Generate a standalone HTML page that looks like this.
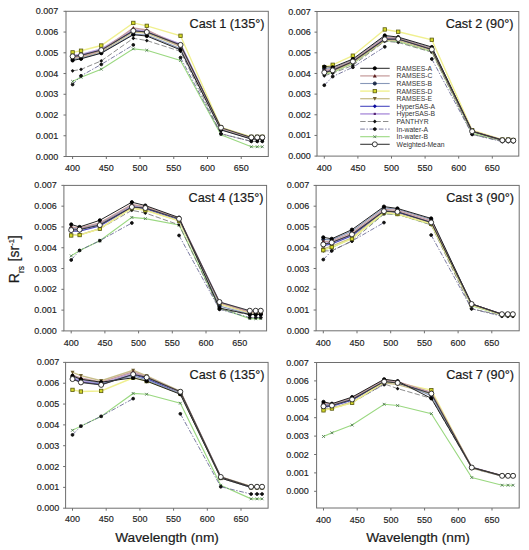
<!DOCTYPE html>
<html><head><meta charset="utf-8"><style>
html,body{margin:0;padding:0;background:#fff;}
body{width:529px;height:550px;overflow:hidden;}
svg{display:block;}
text{font-family:"Liberation Sans",sans-serif;fill:#222;}
.yl{font-size:9px;text-anchor:end;stroke:#222;stroke-width:0.15px;}
.xl{font-size:9px;text-anchor:middle;stroke:#222;stroke-width:0.15px;}
.tt{font-size:12.7px;text-anchor:end;fill:#1a1a1a;stroke:#1a1a1a;stroke-width:0.2px;}
.lg{font-size:6.8px;fill:#333;}
.at{font-size:13.7px;fill:#1a1a1a;stroke:#1a1a1a;stroke-width:0.2px;}
</style></head><body>
<svg width="529" height="550" viewBox="0 0 529 550">
<rect width="529" height="550" fill="#fff"/>
<rect x="66" y="11.3" width="202.30" height="145.20" fill="none" stroke="#6e6e6e" stroke-width="1"/>
<line x1="63.50" y1="156.50" x2="66" y2="156.50" stroke="#6e6e6e" stroke-width="1"/>
<text x="58.20" y="159.55" class="yl">0.000</text>
<line x1="63.50" y1="135.76" x2="66" y2="135.76" stroke="#6e6e6e" stroke-width="1"/>
<text x="58.20" y="138.81" class="yl">0.001</text>
<line x1="63.50" y1="115.02" x2="66" y2="115.02" stroke="#6e6e6e" stroke-width="1"/>
<text x="58.20" y="118.07" class="yl">0.002</text>
<line x1="63.50" y1="94.28" x2="66" y2="94.28" stroke="#6e6e6e" stroke-width="1"/>
<text x="58.20" y="97.33" class="yl">0.003</text>
<line x1="63.50" y1="73.54" x2="66" y2="73.54" stroke="#6e6e6e" stroke-width="1"/>
<text x="58.20" y="76.59" class="yl">0.004</text>
<line x1="63.50" y1="52.80" x2="66" y2="52.80" stroke="#6e6e6e" stroke-width="1"/>
<text x="58.20" y="55.85" class="yl">0.005</text>
<line x1="63.50" y1="32.06" x2="66" y2="32.06" stroke="#6e6e6e" stroke-width="1"/>
<text x="58.20" y="35.11" class="yl">0.006</text>
<line x1="63.50" y1="11.32" x2="66" y2="11.32" stroke="#6e6e6e" stroke-width="1"/>
<text x="58.20" y="14.37" class="yl">0.007</text>
<line x1="72.60" y1="156.5" x2="72.60" y2="159.00" stroke="#6e6e6e" stroke-width="1"/>
<text x="72.60" y="171.00" class="xl">400</text>
<line x1="106.32" y1="156.5" x2="106.32" y2="159.00" stroke="#6e6e6e" stroke-width="1"/>
<text x="106.32" y="171.00" class="xl">450</text>
<line x1="140.05" y1="156.5" x2="140.05" y2="159.00" stroke="#6e6e6e" stroke-width="1"/>
<text x="140.05" y="171.00" class="xl">500</text>
<line x1="173.77" y1="156.5" x2="173.77" y2="159.00" stroke="#6e6e6e" stroke-width="1"/>
<text x="173.77" y="171.00" class="xl">550</text>
<line x1="207.50" y1="156.5" x2="207.50" y2="159.00" stroke="#6e6e6e" stroke-width="1"/>
<text x="207.50" y="171.00" class="xl">600</text>
<line x1="241.22" y1="156.5" x2="241.22" y2="159.00" stroke="#6e6e6e" stroke-width="1"/>
<text x="241.22" y="171.00" class="xl">650</text>
<text x="264.5" y="27.8" class="tt">Cast 1 (135°)</text>
<path d="M72.60,81.42L81.03,77.27L101.27,69.18L133.31,48.86L146.79,50.31L180.52,60.47L220.99,134.72L251.34,146.75L257.24,146.75L262.30,146.75" fill="none" stroke="#9ad880" stroke-width="1.1"/>
<path d="M71.20,80.02L74.00,82.82M71.20,82.82L74.00,80.02" stroke="#507a50" stroke-width="0.9" fill="none"/>
<path d="M79.63,75.87L82.43,78.67M79.63,78.67L82.43,75.87" stroke="#507a50" stroke-width="0.9" fill="none"/>
<path d="M99.87,67.78L102.67,70.58M99.87,70.58L102.67,67.78" stroke="#507a50" stroke-width="0.9" fill="none"/>
<path d="M131.91,47.46L134.71,50.26M131.91,50.26L134.71,47.46" stroke="#507a50" stroke-width="0.9" fill="none"/>
<path d="M145.39,48.91L148.19,51.71M145.39,51.71L148.19,48.91" stroke="#507a50" stroke-width="0.9" fill="none"/>
<path d="M179.12,59.07L181.92,61.87M179.12,61.87L181.92,59.07" stroke="#507a50" stroke-width="0.9" fill="none"/>
<path d="M219.59,133.32L222.39,136.12M219.59,136.12L222.39,133.32" stroke="#507a50" stroke-width="0.9" fill="none"/>
<path d="M249.94,145.35L252.74,148.15M249.94,148.15L252.74,145.35" stroke="#507a50" stroke-width="0.9" fill="none"/>
<path d="M255.84,145.35L258.64,148.15M255.84,148.15L258.64,145.35" stroke="#507a50" stroke-width="0.9" fill="none"/>
<path d="M260.90,145.35L263.70,148.15M260.90,148.15L263.70,145.35" stroke="#507a50" stroke-width="0.9" fill="none"/>
<path d="M72.60,84.53L81.03,75.82L101.27,64.41L133.31,44.92M180.52,57.57L220.99,133.89L251.34,141.36L257.24,141.36L262.30,141.36" fill="none" stroke="#5a5a8a" stroke-width="0.8" stroke-dasharray="4.7,1.6,1.4,1.6"/>
<circle cx="72.60" cy="84.53" r="1.4" fill="#111" stroke="#111" stroke-width="0.9"/>
<circle cx="81.03" cy="75.82" r="1.4" fill="#111" stroke="#111" stroke-width="0.9"/>
<circle cx="101.27" cy="64.41" r="1.4" fill="#111" stroke="#111" stroke-width="0.9"/>
<circle cx="133.31" cy="44.92" r="1.4" fill="#111" stroke="#111" stroke-width="0.9"/>
<circle cx="180.52" cy="57.57" r="1.4" fill="#111" stroke="#111" stroke-width="0.9"/>
<circle cx="220.99" cy="133.89" r="1.4" fill="#111" stroke="#111" stroke-width="0.9"/>
<circle cx="251.34" cy="141.36" r="1.4" fill="#111" stroke="#111" stroke-width="0.9"/>
<circle cx="257.24" cy="141.36" r="1.4" fill="#111" stroke="#111" stroke-width="0.9"/>
<circle cx="262.30" cy="141.36" r="1.4" fill="#111" stroke="#111" stroke-width="0.9"/>
<path d="M72.60,70.84L81.03,69.39L101.27,60.89L133.31,38.28L146.79,40.56L180.52,51.35L220.99,133.69L251.34,141.36L257.24,141.36L262.30,141.36" fill="none" stroke="#707070" stroke-width="0.8" stroke-dasharray="5.4,2.2"/>
<path d="M72.60,68.94L74.50,70.84L72.60,72.74L70.70,70.84Z" fill="#111"/>
<path d="M81.03,67.49L82.93,69.39L81.03,71.29L79.13,69.39Z" fill="#111"/>
<path d="M101.27,58.99L103.17,60.89L101.27,62.79L99.37,60.89Z" fill="#111"/>
<path d="M133.31,36.38L135.21,38.28L133.31,40.18L131.41,38.28Z" fill="#111"/>
<path d="M146.79,38.66L148.69,40.56L146.79,42.46L144.89,40.56Z" fill="#111"/>
<path d="M180.52,49.45L182.42,51.35L180.52,53.25L178.62,51.35Z" fill="#111"/>
<path d="M220.99,131.79L222.89,133.69L220.99,135.59L219.09,133.69Z" fill="#111"/>
<path d="M251.34,139.46L253.24,141.36L251.34,143.26L249.44,141.36Z" fill="#111"/>
<path d="M257.24,139.46L259.14,141.36L257.24,143.26L255.34,141.36Z" fill="#111"/>
<path d="M262.30,139.46L264.20,141.36L262.30,143.26L260.40,141.36Z" fill="#111"/>
<path d="M72.60,55.29L81.03,54.46L101.27,49.07L133.31,29.57L146.79,31.23L180.52,44.09L220.99,127.88L251.34,137.21L257.24,137.21L262.30,137.21" fill="none" stroke="#b8a0e0" stroke-width="1.6"/>
<rect x="71.90" y="54.59" width="1.4" height="1.4" fill="#502070" stroke="#502070" stroke-width="0.8"/>
<rect x="80.33" y="53.76" width="1.4" height="1.4" fill="#502070" stroke="#502070" stroke-width="0.8"/>
<rect x="100.57" y="48.37" width="1.4" height="1.4" fill="#502070" stroke="#502070" stroke-width="0.8"/>
<rect x="132.61" y="28.87" width="1.4" height="1.4" fill="#502070" stroke="#502070" stroke-width="0.8"/>
<rect x="146.09" y="30.53" width="1.4" height="1.4" fill="#502070" stroke="#502070" stroke-width="0.8"/>
<rect x="179.82" y="43.39" width="1.4" height="1.4" fill="#502070" stroke="#502070" stroke-width="0.8"/>
<rect x="220.29" y="127.18" width="1.4" height="1.4" fill="#502070" stroke="#502070" stroke-width="0.8"/>
<rect x="250.64" y="136.51" width="1.4" height="1.4" fill="#502070" stroke="#502070" stroke-width="0.8"/>
<rect x="256.54" y="136.51" width="1.4" height="1.4" fill="#502070" stroke="#502070" stroke-width="0.8"/>
<rect x="261.60" y="136.51" width="1.4" height="1.4" fill="#502070" stroke="#502070" stroke-width="0.8"/>
<path d="M72.60,56.95L81.03,56.12L101.27,50.31L133.31,31.02L146.79,32.06L180.52,45.33L220.99,128.29L251.34,137.42L257.24,137.42L262.30,137.42" fill="none" stroke="#4848c0" stroke-width="1.1"/>
<path d="M72.60,54.95L74.60,56.95L72.60,58.95L70.60,56.95Z" fill="#0a0a9a"/>
<path d="M81.03,54.12L83.03,56.12L81.03,58.12L79.03,56.12Z" fill="#0a0a9a"/>
<path d="M101.27,48.31L103.27,50.31L101.27,52.31L99.27,50.31Z" fill="#0a0a9a"/>
<path d="M133.31,29.02L135.31,31.02L133.31,33.02L131.31,31.02Z" fill="#0a0a9a"/>
<path d="M146.79,30.06L148.79,32.06L146.79,34.06L144.79,32.06Z" fill="#0a0a9a"/>
<path d="M180.52,43.33L182.52,45.33L180.52,47.33L178.52,45.33Z" fill="#0a0a9a"/>
<path d="M220.99,126.29L222.99,128.29L220.99,130.29L218.99,128.29Z" fill="#0a0a9a"/>
<path d="M251.34,135.42L253.34,137.42L251.34,139.42L249.34,137.42Z" fill="#0a0a9a"/>
<path d="M257.24,135.42L259.24,137.42L257.24,139.42L255.24,137.42Z" fill="#0a0a9a"/>
<path d="M262.30,135.42L264.30,137.42L262.30,139.42L260.30,137.42Z" fill="#0a0a9a"/>
<path d="M72.60,58.61L81.03,57.36L101.27,51.76L133.31,32.06L146.79,33.10L180.52,46.58L220.99,128.71L251.34,137.83L257.24,137.83L262.30,137.83" fill="none" stroke="#c8be8a" stroke-width="1.3"/>
<path d="M72.60,60.61L74.60,57.01L70.60,57.01Z" fill="#6f6030"/>
<path d="M81.03,59.36L83.03,55.76L79.03,55.76Z" fill="#6f6030"/>
<path d="M101.27,53.76L103.27,50.16L99.27,50.16Z" fill="#6f6030"/>
<path d="M133.31,34.06L135.31,30.46L131.31,30.46Z" fill="#6f6030"/>
<path d="M146.79,35.10L148.79,31.50L144.79,31.50Z" fill="#6f6030"/>
<path d="M180.52,48.58L182.52,44.98L178.52,44.98Z" fill="#6f6030"/>
<path d="M220.99,130.71L222.99,127.11L218.99,127.11Z" fill="#6f6030"/>
<path d="M251.34,139.83L253.34,136.23L249.34,136.23Z" fill="#6f6030"/>
<path d="M257.24,139.83L259.24,136.23L255.24,136.23Z" fill="#6f6030"/>
<path d="M262.30,139.83L264.30,136.23L260.30,136.23Z" fill="#6f6030"/>
<path d="M72.60,52.39L81.03,50.73L101.27,45.54L133.31,22.93L146.79,25.84L180.52,35.79L220.99,127.46L251.34,136.80L257.24,136.80L262.30,136.80" fill="none" stroke="#f0f090" stroke-width="1.4"/>
<rect x="70.90" y="50.69" width="3.4" height="3.4" fill="#d4d828" stroke="#5a5a10" stroke-width="0.8"/>
<rect x="79.33" y="49.03" width="3.4" height="3.4" fill="#d4d828" stroke="#5a5a10" stroke-width="0.8"/>
<rect x="99.57" y="43.84" width="3.4" height="3.4" fill="#d4d828" stroke="#5a5a10" stroke-width="0.8"/>
<rect x="131.61" y="21.23" width="3.4" height="3.4" fill="#d4d828" stroke="#5a5a10" stroke-width="0.8"/>
<rect x="145.09" y="24.14" width="3.4" height="3.4" fill="#d4d828" stroke="#5a5a10" stroke-width="0.8"/>
<rect x="178.82" y="34.09" width="3.4" height="3.4" fill="#d4d828" stroke="#5a5a10" stroke-width="0.8"/>
<rect x="219.29" y="125.76" width="3.4" height="3.4" fill="#d4d828" stroke="#5a5a10" stroke-width="0.8"/>
<rect x="249.64" y="135.10" width="3.4" height="3.4" fill="#d4d828" stroke="#5a5a10" stroke-width="0.8"/>
<rect x="255.54" y="135.10" width="3.4" height="3.4" fill="#d4d828" stroke="#5a5a10" stroke-width="0.8"/>
<rect x="260.60" y="135.10" width="3.4" height="3.4" fill="#d4d828" stroke="#5a5a10" stroke-width="0.8"/>
<path d="M72.60,59.44L81.03,58.19L101.27,52.80L133.31,34.13L146.79,34.96L180.52,48.65L220.99,129.54L251.34,138.66L257.24,138.66L262.30,138.66" fill="none" stroke="#8898b8" stroke-width="1.1"/>
<circle cx="72.60" cy="59.44" r="1.6" fill="#1c2a48" stroke="#1c2a48" stroke-width="0.9"/>
<circle cx="81.03" cy="58.19" r="1.6" fill="#1c2a48" stroke="#1c2a48" stroke-width="0.9"/>
<circle cx="101.27" cy="52.80" r="1.6" fill="#1c2a48" stroke="#1c2a48" stroke-width="0.9"/>
<circle cx="133.31" cy="34.13" r="1.6" fill="#1c2a48" stroke="#1c2a48" stroke-width="0.9"/>
<circle cx="146.79" cy="34.96" r="1.6" fill="#1c2a48" stroke="#1c2a48" stroke-width="0.9"/>
<circle cx="180.52" cy="48.65" r="1.6" fill="#1c2a48" stroke="#1c2a48" stroke-width="0.9"/>
<circle cx="220.99" cy="129.54" r="1.6" fill="#1c2a48" stroke="#1c2a48" stroke-width="0.9"/>
<circle cx="251.34" cy="138.66" r="1.6" fill="#1c2a48" stroke="#1c2a48" stroke-width="0.9"/>
<circle cx="257.24" cy="138.66" r="1.6" fill="#1c2a48" stroke="#1c2a48" stroke-width="0.9"/>
<circle cx="262.30" cy="138.66" r="1.6" fill="#1c2a48" stroke="#1c2a48" stroke-width="0.9"/>
<path d="M72.60,57.36L81.03,56.53L101.27,50.73L133.31,27.91L146.79,29.99L180.52,46.16L220.99,128.29L251.34,137.83L257.24,137.83L262.30,137.83" fill="none" stroke="#c8a0a0" stroke-width="1.3"/>
<path d="M72.60,55.36L74.60,58.96L70.60,58.96Z" fill="#5a1e1e"/>
<path d="M81.03,54.53L83.03,58.13L79.03,58.13Z" fill="#5a1e1e"/>
<path d="M101.27,48.73L103.27,52.33L99.27,52.33Z" fill="#5a1e1e"/>
<path d="M133.31,25.91L135.31,29.51L131.31,29.51Z" fill="#5a1e1e"/>
<path d="M146.79,27.99L148.79,31.59L144.79,31.59Z" fill="#5a1e1e"/>
<path d="M180.52,44.16L182.52,47.76L178.52,47.76Z" fill="#5a1e1e"/>
<path d="M220.99,126.29L222.99,129.89L218.99,129.89Z" fill="#5a1e1e"/>
<path d="M251.34,135.83L253.34,139.43L249.34,139.43Z" fill="#5a1e1e"/>
<path d="M257.24,135.83L259.24,139.43L255.24,139.43Z" fill="#5a1e1e"/>
<path d="M262.30,135.83L264.30,139.43L260.30,139.43Z" fill="#5a1e1e"/>
<path d="M72.60,60.47L81.03,58.81L101.27,53.21L133.31,34.76L146.79,36.00L180.52,49.90L220.99,129.95L251.34,139.08L257.24,139.08L262.30,139.08" fill="none" stroke="#222222" stroke-width="1.0"/>
<circle cx="72.60" cy="60.47" r="1.6" fill="#000" stroke="#000" stroke-width="0.9"/>
<circle cx="81.03" cy="58.81" r="1.6" fill="#000" stroke="#000" stroke-width="0.9"/>
<circle cx="101.27" cy="53.21" r="1.6" fill="#000" stroke="#000" stroke-width="0.9"/>
<circle cx="133.31" cy="34.76" r="1.6" fill="#000" stroke="#000" stroke-width="0.9"/>
<circle cx="146.79" cy="36.00" r="1.6" fill="#000" stroke="#000" stroke-width="0.9"/>
<circle cx="180.52" cy="49.90" r="1.6" fill="#000" stroke="#000" stroke-width="0.9"/>
<circle cx="220.99" cy="129.95" r="1.6" fill="#000" stroke="#000" stroke-width="0.9"/>
<circle cx="251.34" cy="139.08" r="1.6" fill="#000" stroke="#000" stroke-width="0.9"/>
<circle cx="257.24" cy="139.08" r="1.6" fill="#000" stroke="#000" stroke-width="0.9"/>
<circle cx="262.30" cy="139.08" r="1.6" fill="#000" stroke="#000" stroke-width="0.9"/>
<path d="M72.60,56.33L81.03,55.29L101.27,50.10L133.31,30.82L146.79,32.06L180.52,44.92L220.99,127.67L251.34,137.42L257.24,137.42L262.30,137.42" fill="none" stroke="#3a3a3a" stroke-width="1.1"/>
<circle cx="72.60" cy="56.33" r="2.5" fill="#fff" stroke="#222" stroke-width="0.9"/>
<circle cx="81.03" cy="55.29" r="2.5" fill="#fff" stroke="#222" stroke-width="0.9"/>
<circle cx="101.27" cy="50.10" r="2.5" fill="#fff" stroke="#222" stroke-width="0.9"/>
<circle cx="133.31" cy="30.82" r="2.5" fill="#fff" stroke="#222" stroke-width="0.9"/>
<circle cx="146.79" cy="32.06" r="2.5" fill="#fff" stroke="#222" stroke-width="0.9"/>
<circle cx="180.52" cy="44.92" r="2.5" fill="#fff" stroke="#222" stroke-width="0.9"/>
<circle cx="220.99" cy="127.67" r="2.5" fill="#fff" stroke="#222" stroke-width="0.9"/>
<circle cx="251.34" cy="137.42" r="2.5" fill="#fff" stroke="#222" stroke-width="0.9"/>
<circle cx="257.24" cy="137.42" r="2.5" fill="#fff" stroke="#222" stroke-width="0.9"/>
<circle cx="262.30" cy="137.42" r="2.5" fill="#fff" stroke="#222" stroke-width="0.9"/>
<rect x="317" y="11.5" width="201.80" height="144.60" fill="none" stroke="#6e6e6e" stroke-width="1"/>
<line x1="314.50" y1="156.10" x2="317" y2="156.10" stroke="#6e6e6e" stroke-width="1"/>
<text x="310.80" y="159.15" class="yl">0.000</text>
<line x1="314.50" y1="135.44" x2="317" y2="135.44" stroke="#6e6e6e" stroke-width="1"/>
<text x="310.80" y="138.49" class="yl">0.001</text>
<line x1="314.50" y1="114.78" x2="317" y2="114.78" stroke="#6e6e6e" stroke-width="1"/>
<text x="310.80" y="117.83" class="yl">0.002</text>
<line x1="314.50" y1="94.12" x2="317" y2="94.12" stroke="#6e6e6e" stroke-width="1"/>
<text x="310.80" y="97.17" class="yl">0.003</text>
<line x1="314.50" y1="73.46" x2="317" y2="73.46" stroke="#6e6e6e" stroke-width="1"/>
<text x="310.80" y="76.51" class="yl">0.004</text>
<line x1="314.50" y1="52.80" x2="317" y2="52.80" stroke="#6e6e6e" stroke-width="1"/>
<text x="310.80" y="55.85" class="yl">0.005</text>
<line x1="314.50" y1="32.14" x2="317" y2="32.14" stroke="#6e6e6e" stroke-width="1"/>
<text x="310.80" y="35.19" class="yl">0.006</text>
<line x1="314.50" y1="11.48" x2="317" y2="11.48" stroke="#6e6e6e" stroke-width="1"/>
<text x="310.80" y="14.53" class="yl">0.007</text>
<line x1="324.30" y1="156.1" x2="324.30" y2="158.60" stroke="#6e6e6e" stroke-width="1"/>
<text x="324.30" y="171.00" class="xl">400</text>
<line x1="357.90" y1="156.1" x2="357.90" y2="158.60" stroke="#6e6e6e" stroke-width="1"/>
<text x="357.90" y="171.00" class="xl">450</text>
<line x1="391.50" y1="156.1" x2="391.50" y2="158.60" stroke="#6e6e6e" stroke-width="1"/>
<text x="391.50" y="171.00" class="xl">500</text>
<line x1="425.10" y1="156.1" x2="425.10" y2="158.60" stroke="#6e6e6e" stroke-width="1"/>
<text x="425.10" y="171.00" class="xl">550</text>
<line x1="458.70" y1="156.1" x2="458.70" y2="158.60" stroke="#6e6e6e" stroke-width="1"/>
<text x="458.70" y="171.00" class="xl">600</text>
<line x1="492.30" y1="156.1" x2="492.30" y2="158.60" stroke="#6e6e6e" stroke-width="1"/>
<text x="492.30" y="171.00" class="xl">650</text>
<text x="513.5" y="28.2" class="tt">Cast 2 (90°)</text>
<path d="M324.30,74.49L332.70,72.43L352.86,63.54L384.78,40.82L398.22,41.44L431.82,51.77L472.14,133.37L502.38,140.81L508.26,140.81L513.30,141.22" fill="none" stroke="#9ad880" stroke-width="1.1"/>
<path d="M322.90,73.09L325.70,75.89M322.90,75.89L325.70,73.09" stroke="#507a50" stroke-width="0.9" fill="none"/>
<path d="M331.30,71.03L334.10,73.83M331.30,73.83L334.10,71.03" stroke="#507a50" stroke-width="0.9" fill="none"/>
<path d="M351.46,62.14L354.26,64.94M351.46,64.94L354.26,62.14" stroke="#507a50" stroke-width="0.9" fill="none"/>
<path d="M383.38,39.42L386.18,42.22M383.38,42.22L386.18,39.42" stroke="#507a50" stroke-width="0.9" fill="none"/>
<path d="M396.82,40.04L399.62,42.84M396.82,42.84L399.62,40.04" stroke="#507a50" stroke-width="0.9" fill="none"/>
<path d="M430.42,50.37L433.22,53.17M430.42,53.17L433.22,50.37" stroke="#507a50" stroke-width="0.9" fill="none"/>
<path d="M470.74,131.97L473.54,134.77M470.74,134.77L473.54,131.97" stroke="#507a50" stroke-width="0.9" fill="none"/>
<path d="M500.98,139.41L503.78,142.21M500.98,142.21L503.78,139.41" stroke="#507a50" stroke-width="0.9" fill="none"/>
<path d="M506.86,139.41L509.66,142.21M506.86,142.21L509.66,139.41" stroke="#507a50" stroke-width="0.9" fill="none"/>
<path d="M511.90,139.82L514.70,142.62M511.90,142.62L514.70,139.82" stroke="#507a50" stroke-width="0.9" fill="none"/>
<path d="M324.30,85.24L332.70,76.56L352.86,67.26L384.78,46.81M431.82,59.00L472.14,134.41L502.38,141.64L508.26,141.64L513.30,141.64" fill="none" stroke="#5a5a8a" stroke-width="0.8" stroke-dasharray="4.7,1.6,1.4,1.6"/>
<circle cx="324.30" cy="85.24" r="1.4" fill="#111" stroke="#111" stroke-width="0.9"/>
<circle cx="332.70" cy="76.56" r="1.4" fill="#111" stroke="#111" stroke-width="0.9"/>
<circle cx="352.86" cy="67.26" r="1.4" fill="#111" stroke="#111" stroke-width="0.9"/>
<circle cx="384.78" cy="46.81" r="1.4" fill="#111" stroke="#111" stroke-width="0.9"/>
<circle cx="431.82" cy="59.00" r="1.4" fill="#111" stroke="#111" stroke-width="0.9"/>
<circle cx="472.14" cy="134.41" r="1.4" fill="#111" stroke="#111" stroke-width="0.9"/>
<circle cx="502.38" cy="141.64" r="1.4" fill="#111" stroke="#111" stroke-width="0.9"/>
<circle cx="508.26" cy="141.64" r="1.4" fill="#111" stroke="#111" stroke-width="0.9"/>
<circle cx="513.30" cy="141.64" r="1.4" fill="#111" stroke="#111" stroke-width="0.9"/>
<path d="M324.30,75.73L332.70,73.25L352.86,65.40L384.78,41.23L398.22,42.47L431.82,52.18L472.14,134.41L502.38,141.22L508.26,141.22L513.30,141.64" fill="none" stroke="#707070" stroke-width="0.8" stroke-dasharray="5.4,2.2"/>
<path d="M324.30,73.83L326.20,75.73L324.30,77.63L322.40,75.73Z" fill="#111"/>
<path d="M332.70,71.35L334.60,73.25L332.70,75.15L330.80,73.25Z" fill="#111"/>
<path d="M352.86,63.50L354.76,65.40L352.86,67.30L350.96,65.40Z" fill="#111"/>
<path d="M384.78,39.33L386.68,41.23L384.78,43.13L382.88,41.23Z" fill="#111"/>
<path d="M398.22,40.57L400.12,42.47L398.22,44.37L396.32,42.47Z" fill="#111"/>
<path d="M431.82,50.28L433.72,52.18L431.82,54.08L429.92,52.18Z" fill="#111"/>
<path d="M472.14,132.51L474.04,134.41L472.14,136.31L470.24,134.41Z" fill="#111"/>
<path d="M502.38,139.32L504.28,141.22L502.38,143.12L500.48,141.22Z" fill="#111"/>
<path d="M508.26,139.32L510.16,141.22L508.26,143.12L506.36,141.22Z" fill="#111"/>
<path d="M513.30,139.74L515.20,141.64L513.30,143.54L511.40,141.64Z" fill="#111"/>
<path d="M324.30,70.98L332.70,69.74L352.86,61.06L384.78,37.92L398.22,38.34L431.82,49.08L472.14,131.10L502.38,139.99L508.26,139.99L513.30,140.40" fill="none" stroke="#b8a0e0" stroke-width="1.6"/>
<rect x="323.60" y="70.28" width="1.4" height="1.4" fill="#502070" stroke="#502070" stroke-width="0.8"/>
<rect x="332.00" y="69.04" width="1.4" height="1.4" fill="#502070" stroke="#502070" stroke-width="0.8"/>
<rect x="352.16" y="60.36" width="1.4" height="1.4" fill="#502070" stroke="#502070" stroke-width="0.8"/>
<rect x="384.08" y="37.22" width="1.4" height="1.4" fill="#502070" stroke="#502070" stroke-width="0.8"/>
<rect x="397.52" y="37.64" width="1.4" height="1.4" fill="#502070" stroke="#502070" stroke-width="0.8"/>
<rect x="431.12" y="48.38" width="1.4" height="1.4" fill="#502070" stroke="#502070" stroke-width="0.8"/>
<rect x="471.44" y="130.40" width="1.4" height="1.4" fill="#502070" stroke="#502070" stroke-width="0.8"/>
<rect x="501.68" y="139.29" width="1.4" height="1.4" fill="#502070" stroke="#502070" stroke-width="0.8"/>
<rect x="507.56" y="139.29" width="1.4" height="1.4" fill="#502070" stroke="#502070" stroke-width="0.8"/>
<rect x="512.60" y="139.70" width="1.4" height="1.4" fill="#502070" stroke="#502070" stroke-width="0.8"/>
<path d="M324.30,71.81L332.70,70.57L352.86,61.89L384.78,39.16L398.22,39.16L431.82,49.70L472.14,131.31L502.38,140.19L508.26,140.19L513.30,140.60" fill="none" stroke="#4848c0" stroke-width="1.1"/>
<path d="M324.30,69.81L326.30,71.81L324.30,73.81L322.30,71.81Z" fill="#0a0a9a"/>
<path d="M332.70,68.57L334.70,70.57L332.70,72.57L330.70,70.57Z" fill="#0a0a9a"/>
<path d="M352.86,59.89L354.86,61.89L352.86,63.89L350.86,61.89Z" fill="#0a0a9a"/>
<path d="M384.78,37.16L386.78,39.16L384.78,41.16L382.78,39.16Z" fill="#0a0a9a"/>
<path d="M398.22,37.16L400.22,39.16L398.22,41.16L396.22,39.16Z" fill="#0a0a9a"/>
<path d="M431.82,47.70L433.82,49.70L431.82,51.70L429.82,49.70Z" fill="#0a0a9a"/>
<path d="M472.14,129.31L474.14,131.31L472.14,133.31L470.14,131.31Z" fill="#0a0a9a"/>
<path d="M502.38,138.19L504.38,140.19L502.38,142.19L500.38,140.19Z" fill="#0a0a9a"/>
<path d="M508.26,138.19L510.26,140.19L508.26,142.19L506.26,140.19Z" fill="#0a0a9a"/>
<path d="M513.30,138.60L515.30,140.60L513.30,142.60L511.30,140.60Z" fill="#0a0a9a"/>
<path d="M324.30,73.46L332.70,71.39L352.86,62.72L384.78,40.40L398.22,40.40L431.82,50.73L472.14,131.72L502.38,140.40L508.26,140.40L513.30,140.81" fill="none" stroke="#c8be8a" stroke-width="1.3"/>
<path d="M324.30,75.46L326.30,71.86L322.30,71.86Z" fill="#6f6030"/>
<path d="M332.70,73.39L334.70,69.79L330.70,69.79Z" fill="#6f6030"/>
<path d="M352.86,64.72L354.86,61.12L350.86,61.12Z" fill="#6f6030"/>
<path d="M384.78,42.40L386.78,38.80L382.78,38.80Z" fill="#6f6030"/>
<path d="M398.22,42.40L400.22,38.80L396.22,38.80Z" fill="#6f6030"/>
<path d="M431.82,52.73L433.82,49.13L429.82,49.13Z" fill="#6f6030"/>
<path d="M472.14,133.72L474.14,130.12L470.14,130.12Z" fill="#6f6030"/>
<path d="M502.38,142.40L504.38,138.80L500.38,138.80Z" fill="#6f6030"/>
<path d="M508.26,142.40L510.26,138.80L506.26,138.80Z" fill="#6f6030"/>
<path d="M513.30,142.81L515.30,139.21L511.30,139.21Z" fill="#6f6030"/>
<path d="M324.30,67.26L332.70,64.78L352.86,55.69L384.78,29.45L398.22,31.73L431.82,39.78L472.14,130.28L502.38,139.57L508.26,139.57L513.30,139.99" fill="none" stroke="#f0f090" stroke-width="1.4"/>
<rect x="322.60" y="65.56" width="3.4" height="3.4" fill="#d4d828" stroke="#5a5a10" stroke-width="0.8"/>
<rect x="331.00" y="63.08" width="3.4" height="3.4" fill="#d4d828" stroke="#5a5a10" stroke-width="0.8"/>
<rect x="351.16" y="53.99" width="3.4" height="3.4" fill="#d4d828" stroke="#5a5a10" stroke-width="0.8"/>
<rect x="383.08" y="27.75" width="3.4" height="3.4" fill="#d4d828" stroke="#5a5a10" stroke-width="0.8"/>
<rect x="396.52" y="30.03" width="3.4" height="3.4" fill="#d4d828" stroke="#5a5a10" stroke-width="0.8"/>
<rect x="430.12" y="38.08" width="3.4" height="3.4" fill="#d4d828" stroke="#5a5a10" stroke-width="0.8"/>
<rect x="470.44" y="128.58" width="3.4" height="3.4" fill="#d4d828" stroke="#5a5a10" stroke-width="0.8"/>
<rect x="500.68" y="137.87" width="3.4" height="3.4" fill="#d4d828" stroke="#5a5a10" stroke-width="0.8"/>
<rect x="506.56" y="137.87" width="3.4" height="3.4" fill="#d4d828" stroke="#5a5a10" stroke-width="0.8"/>
<rect x="511.60" y="138.29" width="3.4" height="3.4" fill="#d4d828" stroke="#5a5a10" stroke-width="0.8"/>
<path d="M324.30,68.91L332.70,68.50L352.86,59.82L384.78,36.27L398.22,37.92L431.82,47.84L472.14,131.31L502.38,139.99L508.26,139.99L513.30,140.40" fill="none" stroke="#8898b8" stroke-width="1.1"/>
<circle cx="324.30" cy="68.91" r="1.6" fill="#1c2a48" stroke="#1c2a48" stroke-width="0.9"/>
<circle cx="332.70" cy="68.50" r="1.6" fill="#1c2a48" stroke="#1c2a48" stroke-width="0.9"/>
<circle cx="352.86" cy="59.82" r="1.6" fill="#1c2a48" stroke="#1c2a48" stroke-width="0.9"/>
<circle cx="384.78" cy="36.27" r="1.6" fill="#1c2a48" stroke="#1c2a48" stroke-width="0.9"/>
<circle cx="398.22" cy="37.92" r="1.6" fill="#1c2a48" stroke="#1c2a48" stroke-width="0.9"/>
<circle cx="431.82" cy="47.84" r="1.6" fill="#1c2a48" stroke="#1c2a48" stroke-width="0.9"/>
<circle cx="472.14" cy="131.31" r="1.6" fill="#1c2a48" stroke="#1c2a48" stroke-width="0.9"/>
<circle cx="502.38" cy="139.99" r="1.6" fill="#1c2a48" stroke="#1c2a48" stroke-width="0.9"/>
<circle cx="508.26" cy="139.99" r="1.6" fill="#1c2a48" stroke="#1c2a48" stroke-width="0.9"/>
<circle cx="513.30" cy="140.40" r="1.6" fill="#1c2a48" stroke="#1c2a48" stroke-width="0.9"/>
<path d="M324.30,70.36L332.70,69.33L352.86,60.65L384.78,37.30L398.22,38.34L431.82,48.67L472.14,130.89L502.38,139.99L508.26,139.99L513.30,140.40" fill="none" stroke="#c8a0a0" stroke-width="1.3"/>
<path d="M324.30,68.36L326.30,71.96L322.30,71.96Z" fill="#5a1e1e"/>
<path d="M332.70,67.33L334.70,70.93L330.70,70.93Z" fill="#5a1e1e"/>
<path d="M352.86,58.65L354.86,62.25L350.86,62.25Z" fill="#5a1e1e"/>
<path d="M384.78,35.30L386.78,38.90L382.78,38.90Z" fill="#5a1e1e"/>
<path d="M398.22,36.34L400.22,39.94L396.22,39.94Z" fill="#5a1e1e"/>
<path d="M431.82,46.67L433.82,50.27L429.82,50.27Z" fill="#5a1e1e"/>
<path d="M472.14,128.89L474.14,132.49L470.14,132.49Z" fill="#5a1e1e"/>
<path d="M502.38,137.99L504.38,141.59L500.38,141.59Z" fill="#5a1e1e"/>
<path d="M508.26,137.99L510.26,141.59L506.26,141.59Z" fill="#5a1e1e"/>
<path d="M513.30,138.40L515.30,142.00L511.30,142.00Z" fill="#5a1e1e"/>
<path d="M324.30,66.64L332.70,67.26L352.86,59.00L384.78,35.45L398.22,37.10L431.82,47.02L472.14,131.31L502.38,139.99L508.26,139.99L513.30,140.40" fill="none" stroke="#222222" stroke-width="1.0"/>
<circle cx="324.30" cy="66.64" r="1.6" fill="#000" stroke="#000" stroke-width="0.9"/>
<circle cx="332.70" cy="67.26" r="1.6" fill="#000" stroke="#000" stroke-width="0.9"/>
<circle cx="352.86" cy="59.00" r="1.6" fill="#000" stroke="#000" stroke-width="0.9"/>
<circle cx="384.78" cy="35.45" r="1.6" fill="#000" stroke="#000" stroke-width="0.9"/>
<circle cx="398.22" cy="37.10" r="1.6" fill="#000" stroke="#000" stroke-width="0.9"/>
<circle cx="431.82" cy="47.02" r="1.6" fill="#000" stroke="#000" stroke-width="0.9"/>
<circle cx="472.14" cy="131.31" r="1.6" fill="#000" stroke="#000" stroke-width="0.9"/>
<circle cx="502.38" cy="139.99" r="1.6" fill="#000" stroke="#000" stroke-width="0.9"/>
<circle cx="508.26" cy="139.99" r="1.6" fill="#000" stroke="#000" stroke-width="0.9"/>
<circle cx="513.30" cy="140.40" r="1.6" fill="#000" stroke="#000" stroke-width="0.9"/>
<path d="M324.30,72.43L332.70,70.36L352.86,61.48L384.78,39.37L398.22,38.96L431.82,49.49L472.14,131.31L502.38,140.19L508.26,140.19L513.30,140.60" fill="none" stroke="#3a3a3a" stroke-width="1.1"/>
<circle cx="324.30" cy="72.43" r="2.5" fill="#fff" stroke="#222" stroke-width="0.9"/>
<circle cx="332.70" cy="70.36" r="2.5" fill="#fff" stroke="#222" stroke-width="0.9"/>
<circle cx="352.86" cy="61.48" r="2.5" fill="#fff" stroke="#222" stroke-width="0.9"/>
<circle cx="384.78" cy="39.37" r="2.5" fill="#fff" stroke="#222" stroke-width="0.9"/>
<circle cx="398.22" cy="38.96" r="2.5" fill="#fff" stroke="#222" stroke-width="0.9"/>
<circle cx="431.82" cy="49.49" r="2.5" fill="#fff" stroke="#222" stroke-width="0.9"/>
<circle cx="472.14" cy="131.31" r="2.5" fill="#fff" stroke="#222" stroke-width="0.9"/>
<circle cx="502.38" cy="140.19" r="2.5" fill="#fff" stroke="#222" stroke-width="0.9"/>
<circle cx="508.26" cy="140.19" r="2.5" fill="#fff" stroke="#222" stroke-width="0.9"/>
<circle cx="513.30" cy="140.60" r="2.5" fill="#fff" stroke="#222" stroke-width="0.9"/>
<rect x="63.9" y="185.4" width="202.70" height="145.50" fill="none" stroke="#6e6e6e" stroke-width="1"/>
<line x1="61.40" y1="330.90" x2="63.9" y2="330.90" stroke="#6e6e6e" stroke-width="1"/>
<text x="56.80" y="333.95" class="yl">0.000</text>
<line x1="61.40" y1="310.11" x2="63.9" y2="310.11" stroke="#6e6e6e" stroke-width="1"/>
<text x="56.80" y="313.16" class="yl">0.001</text>
<line x1="61.40" y1="289.32" x2="63.9" y2="289.32" stroke="#6e6e6e" stroke-width="1"/>
<text x="56.80" y="292.37" class="yl">0.002</text>
<line x1="61.40" y1="268.53" x2="63.9" y2="268.53" stroke="#6e6e6e" stroke-width="1"/>
<text x="56.80" y="271.58" class="yl">0.003</text>
<line x1="61.40" y1="247.74" x2="63.9" y2="247.74" stroke="#6e6e6e" stroke-width="1"/>
<text x="56.80" y="250.79" class="yl">0.004</text>
<line x1="61.40" y1="226.95" x2="63.9" y2="226.95" stroke="#6e6e6e" stroke-width="1"/>
<text x="56.80" y="230.00" class="yl">0.005</text>
<line x1="61.40" y1="206.16" x2="63.9" y2="206.16" stroke="#6e6e6e" stroke-width="1"/>
<text x="56.80" y="209.21" class="yl">0.006</text>
<line x1="61.40" y1="185.37" x2="63.9" y2="185.37" stroke="#6e6e6e" stroke-width="1"/>
<text x="56.80" y="188.42" class="yl">0.007</text>
<line x1="71.20" y1="330.9" x2="71.20" y2="333.40" stroke="#6e6e6e" stroke-width="1"/>
<text x="71.20" y="345.50" class="xl">400</text>
<line x1="104.90" y1="330.9" x2="104.90" y2="333.40" stroke="#6e6e6e" stroke-width="1"/>
<text x="104.90" y="345.50" class="xl">450</text>
<line x1="138.60" y1="330.9" x2="138.60" y2="333.40" stroke="#6e6e6e" stroke-width="1"/>
<text x="138.60" y="345.50" class="xl">500</text>
<line x1="172.30" y1="330.9" x2="172.30" y2="333.40" stroke="#6e6e6e" stroke-width="1"/>
<text x="172.30" y="345.50" class="xl">550</text>
<line x1="206.00" y1="330.9" x2="206.00" y2="333.40" stroke="#6e6e6e" stroke-width="1"/>
<text x="206.00" y="345.50" class="xl">600</text>
<line x1="239.70" y1="330.9" x2="239.70" y2="333.40" stroke="#6e6e6e" stroke-width="1"/>
<text x="239.70" y="345.50" class="xl">650</text>
<text x="263.5" y="202" class="tt">Cast 4 (135°)</text>
<path d="M71.20,255.85L79.62,250.44L99.84,240.67L131.86,217.39L145.34,218.63L179.04,224.87L219.48,308.03L249.81,318.63L255.71,318.63L260.76,318.63" fill="none" stroke="#9ad880" stroke-width="1.1"/>
<path d="M69.80,254.45L72.60,257.25M69.80,257.25L72.60,254.45" stroke="#507a50" stroke-width="0.9" fill="none"/>
<path d="M78.22,249.04L81.03,251.84M78.22,251.84L81.03,249.04" stroke="#507a50" stroke-width="0.9" fill="none"/>
<path d="M98.44,239.27L101.25,242.07M98.44,242.07L101.25,239.27" stroke="#507a50" stroke-width="0.9" fill="none"/>
<path d="M130.46,215.99L133.26,218.79M130.46,218.79L133.26,215.99" stroke="#507a50" stroke-width="0.9" fill="none"/>
<path d="M143.94,217.23L146.74,220.03M143.94,220.03L146.74,217.23" stroke="#507a50" stroke-width="0.9" fill="none"/>
<path d="M177.64,223.47L180.44,226.27M177.64,226.27L180.44,223.47" stroke="#507a50" stroke-width="0.9" fill="none"/>
<path d="M218.08,306.63L220.88,309.43M218.08,309.43L220.88,306.63" stroke="#507a50" stroke-width="0.9" fill="none"/>
<path d="M248.41,317.23L251.21,320.03M248.41,320.03L251.21,317.23" stroke="#507a50" stroke-width="0.9" fill="none"/>
<path d="M254.31,317.23L257.11,320.03M254.31,320.03L257.11,317.23" stroke="#507a50" stroke-width="0.9" fill="none"/>
<path d="M259.36,317.23L262.16,320.03M259.36,320.03L262.16,317.23" stroke="#507a50" stroke-width="0.9" fill="none"/>
<path d="M71.20,260.01L79.62,250.44L99.84,240.67L131.86,223.00M179.04,235.47L219.48,309.28L249.81,317.59L255.71,317.59L260.76,317.59" fill="none" stroke="#5a5a8a" stroke-width="0.8" stroke-dasharray="4.7,1.6,1.4,1.6"/>
<circle cx="71.20" cy="260.01" r="1.4" fill="#111" stroke="#111" stroke-width="0.9"/>
<circle cx="79.62" cy="250.44" r="1.4" fill="#111" stroke="#111" stroke-width="0.9"/>
<circle cx="99.84" cy="240.67" r="1.4" fill="#111" stroke="#111" stroke-width="0.9"/>
<circle cx="131.86" cy="223.00" r="1.4" fill="#111" stroke="#111" stroke-width="0.9"/>
<circle cx="179.04" cy="235.47" r="1.4" fill="#111" stroke="#111" stroke-width="0.9"/>
<circle cx="219.48" cy="309.28" r="1.4" fill="#111" stroke="#111" stroke-width="0.9"/>
<circle cx="249.81" cy="317.59" r="1.4" fill="#111" stroke="#111" stroke-width="0.9"/>
<circle cx="255.71" cy="317.59" r="1.4" fill="#111" stroke="#111" stroke-width="0.9"/>
<circle cx="260.76" cy="317.59" r="1.4" fill="#111" stroke="#111" stroke-width="0.9"/>
<path d="M71.20,235.27L79.62,234.85L99.84,228.82L131.86,210.32L145.34,213.02L179.04,224.87L219.48,309.28L249.81,314.68L255.71,314.68L260.76,314.68" fill="none" stroke="#707070" stroke-width="0.8" stroke-dasharray="5.4,2.2"/>
<path d="M71.20,233.37L73.10,235.27L71.20,237.17L69.30,235.27Z" fill="#111"/>
<path d="M79.62,232.95L81.53,234.85L79.62,236.75L77.72,234.85Z" fill="#111"/>
<path d="M99.84,226.92L101.75,228.82L99.84,230.72L97.94,228.82Z" fill="#111"/>
<path d="M131.86,208.42L133.76,210.32L131.86,212.22L129.96,210.32Z" fill="#111"/>
<path d="M145.34,211.12L147.24,213.02L145.34,214.92L143.44,213.02Z" fill="#111"/>
<path d="M179.04,222.97L180.94,224.87L179.04,226.77L177.14,224.87Z" fill="#111"/>
<path d="M219.48,307.38L221.38,309.28L219.48,311.18L217.58,309.28Z" fill="#111"/>
<path d="M249.81,312.78L251.71,314.68L249.81,316.58L247.91,314.68Z" fill="#111"/>
<path d="M255.71,312.78L257.61,314.68L255.71,316.58L253.81,314.68Z" fill="#111"/>
<path d="M260.76,312.78L262.66,314.68L260.76,316.58L258.86,314.68Z" fill="#111"/>
<path d="M71.20,229.03L79.62,229.03L99.84,224.46L131.86,206.16L145.34,207.82L179.04,218.63L219.48,302.21L249.81,311.77L255.71,311.77L260.76,311.77" fill="none" stroke="#b8a0e0" stroke-width="1.6"/>
<rect x="70.50" y="228.33" width="1.4" height="1.4" fill="#502070" stroke="#502070" stroke-width="0.8"/>
<rect x="78.92" y="228.33" width="1.4" height="1.4" fill="#502070" stroke="#502070" stroke-width="0.8"/>
<rect x="99.14" y="223.76" width="1.4" height="1.4" fill="#502070" stroke="#502070" stroke-width="0.8"/>
<rect x="131.16" y="205.46" width="1.4" height="1.4" fill="#502070" stroke="#502070" stroke-width="0.8"/>
<rect x="144.64" y="207.12" width="1.4" height="1.4" fill="#502070" stroke="#502070" stroke-width="0.8"/>
<rect x="178.34" y="217.93" width="1.4" height="1.4" fill="#502070" stroke="#502070" stroke-width="0.8"/>
<rect x="218.78" y="301.51" width="1.4" height="1.4" fill="#502070" stroke="#502070" stroke-width="0.8"/>
<rect x="249.11" y="311.07" width="1.4" height="1.4" fill="#502070" stroke="#502070" stroke-width="0.8"/>
<rect x="255.01" y="311.07" width="1.4" height="1.4" fill="#502070" stroke="#502070" stroke-width="0.8"/>
<rect x="260.06" y="311.07" width="1.4" height="1.4" fill="#502070" stroke="#502070" stroke-width="0.8"/>
<path d="M71.20,231.11L79.62,231.11L99.84,225.91L131.86,207.20L145.34,208.65L179.04,219.67L219.48,303.04L249.81,312.19L255.71,312.19L260.76,312.19" fill="none" stroke="#4848c0" stroke-width="1.1"/>
<path d="M71.20,229.11L73.20,231.11L71.20,233.11L69.20,231.11Z" fill="#0a0a9a"/>
<path d="M79.62,229.11L81.62,231.11L79.62,233.11L77.62,231.11Z" fill="#0a0a9a"/>
<path d="M99.84,223.91L101.84,225.91L99.84,227.91L97.84,225.91Z" fill="#0a0a9a"/>
<path d="M131.86,205.20L133.86,207.20L131.86,209.20L129.86,207.20Z" fill="#0a0a9a"/>
<path d="M145.34,206.65L147.34,208.65L145.34,210.65L143.34,208.65Z" fill="#0a0a9a"/>
<path d="M179.04,217.67L181.04,219.67L179.04,221.67L177.04,219.67Z" fill="#0a0a9a"/>
<path d="M219.48,301.04L221.48,303.04L219.48,305.04L217.48,303.04Z" fill="#0a0a9a"/>
<path d="M249.81,310.19L251.81,312.19L249.81,314.19L247.81,312.19Z" fill="#0a0a9a"/>
<path d="M255.71,310.19L257.71,312.19L255.71,314.19L253.71,312.19Z" fill="#0a0a9a"/>
<path d="M260.76,310.19L262.76,312.19L260.76,314.19L258.76,312.19Z" fill="#0a0a9a"/>
<path d="M71.20,235.27L79.62,234.85L99.84,228.61L131.86,207.82L145.34,209.90L179.04,220.71L219.48,303.87L249.81,313.02L255.71,313.02L260.76,313.02" fill="none" stroke="#c8be8a" stroke-width="1.3"/>
<path d="M71.20,237.27L73.20,233.67L69.20,233.67Z" fill="#6f6030"/>
<path d="M79.62,236.85L81.62,233.25L77.62,233.25Z" fill="#6f6030"/>
<path d="M99.84,230.61L101.84,227.01L97.84,227.01Z" fill="#6f6030"/>
<path d="M131.86,209.82L133.86,206.22L129.86,206.22Z" fill="#6f6030"/>
<path d="M145.34,211.90L147.34,208.30L143.34,208.30Z" fill="#6f6030"/>
<path d="M179.04,222.71L181.04,219.11L177.04,219.11Z" fill="#6f6030"/>
<path d="M219.48,305.87L221.48,302.27L217.48,302.27Z" fill="#6f6030"/>
<path d="M249.81,315.02L251.81,311.42L247.81,311.42Z" fill="#6f6030"/>
<path d="M255.71,315.02L257.71,311.42L253.71,311.42Z" fill="#6f6030"/>
<path d="M260.76,315.02L262.76,311.42L258.76,311.42Z" fill="#6f6030"/>
<path d="M71.20,235.47L79.62,235.06L99.84,228.82L131.86,208.24L145.34,210.32L179.04,220.71L219.48,303.87L249.81,312.60L255.71,312.60L260.76,312.60" fill="none" stroke="#f0f090" stroke-width="1.4"/>
<rect x="69.50" y="233.77" width="3.4" height="3.4" fill="#d4d828" stroke="#5a5a10" stroke-width="0.8"/>
<rect x="77.92" y="233.36" width="3.4" height="3.4" fill="#d4d828" stroke="#5a5a10" stroke-width="0.8"/>
<rect x="98.14" y="227.12" width="3.4" height="3.4" fill="#d4d828" stroke="#5a5a10" stroke-width="0.8"/>
<rect x="130.16" y="206.54" width="3.4" height="3.4" fill="#d4d828" stroke="#5a5a10" stroke-width="0.8"/>
<rect x="143.64" y="208.62" width="3.4" height="3.4" fill="#d4d828" stroke="#5a5a10" stroke-width="0.8"/>
<rect x="177.34" y="219.01" width="3.4" height="3.4" fill="#d4d828" stroke="#5a5a10" stroke-width="0.8"/>
<rect x="217.78" y="302.17" width="3.4" height="3.4" fill="#d4d828" stroke="#5a5a10" stroke-width="0.8"/>
<rect x="248.11" y="310.90" width="3.4" height="3.4" fill="#d4d828" stroke="#5a5a10" stroke-width="0.8"/>
<rect x="254.01" y="310.90" width="3.4" height="3.4" fill="#d4d828" stroke="#5a5a10" stroke-width="0.8"/>
<rect x="259.06" y="310.90" width="3.4" height="3.4" fill="#d4d828" stroke="#5a5a10" stroke-width="0.8"/>
<path d="M71.20,227.99L79.62,228.61L99.84,223.83L131.86,205.12L145.34,207.20L179.04,219.05L219.48,305.95L249.81,314.27L255.71,314.27L260.76,314.27" fill="none" stroke="#8898b8" stroke-width="1.1"/>
<circle cx="71.20" cy="227.99" r="1.6" fill="#1c2a48" stroke="#1c2a48" stroke-width="0.9"/>
<circle cx="79.62" cy="228.61" r="1.6" fill="#1c2a48" stroke="#1c2a48" stroke-width="0.9"/>
<circle cx="99.84" cy="223.83" r="1.6" fill="#1c2a48" stroke="#1c2a48" stroke-width="0.9"/>
<circle cx="131.86" cy="205.12" r="1.6" fill="#1c2a48" stroke="#1c2a48" stroke-width="0.9"/>
<circle cx="145.34" cy="207.20" r="1.6" fill="#1c2a48" stroke="#1c2a48" stroke-width="0.9"/>
<circle cx="179.04" cy="219.05" r="1.6" fill="#1c2a48" stroke="#1c2a48" stroke-width="0.9"/>
<circle cx="219.48" cy="305.95" r="1.6" fill="#1c2a48" stroke="#1c2a48" stroke-width="0.9"/>
<circle cx="249.81" cy="314.27" r="1.6" fill="#1c2a48" stroke="#1c2a48" stroke-width="0.9"/>
<circle cx="255.71" cy="314.27" r="1.6" fill="#1c2a48" stroke="#1c2a48" stroke-width="0.9"/>
<circle cx="260.76" cy="314.27" r="1.6" fill="#1c2a48" stroke="#1c2a48" stroke-width="0.9"/>
<path d="M71.20,226.95L79.62,227.99L99.84,222.79L131.86,204.50L145.34,206.58L179.04,218.22L219.48,302.63L249.81,312.19L255.71,312.19L260.76,312.19" fill="none" stroke="#c8a0a0" stroke-width="1.3"/>
<path d="M71.20,224.95L73.20,228.55L69.20,228.55Z" fill="#5a1e1e"/>
<path d="M79.62,225.99L81.62,229.59L77.62,229.59Z" fill="#5a1e1e"/>
<path d="M99.84,220.79L101.84,224.39L97.84,224.39Z" fill="#5a1e1e"/>
<path d="M131.86,202.50L133.86,206.10L129.86,206.10Z" fill="#5a1e1e"/>
<path d="M145.34,204.58L147.34,208.18L143.34,208.18Z" fill="#5a1e1e"/>
<path d="M179.04,216.22L181.04,219.82L177.04,219.82Z" fill="#5a1e1e"/>
<path d="M219.48,300.63L221.48,304.23L217.48,304.23Z" fill="#5a1e1e"/>
<path d="M249.81,310.19L251.81,313.79L247.81,313.79Z" fill="#5a1e1e"/>
<path d="M255.71,310.19L257.71,313.79L253.71,313.79Z" fill="#5a1e1e"/>
<path d="M260.76,310.19L262.76,313.79L258.76,313.79Z" fill="#5a1e1e"/>
<path d="M71.20,224.46L79.62,226.95L99.84,220.30L131.86,202.21L145.34,205.54L179.04,217.59L219.48,308.03L249.81,314.48L255.71,314.48L260.76,314.48" fill="none" stroke="#222222" stroke-width="1.0"/>
<circle cx="71.20" cy="224.46" r="1.6" fill="#000" stroke="#000" stroke-width="0.9"/>
<circle cx="79.62" cy="226.95" r="1.6" fill="#000" stroke="#000" stroke-width="0.9"/>
<circle cx="99.84" cy="220.30" r="1.6" fill="#000" stroke="#000" stroke-width="0.9"/>
<circle cx="131.86" cy="202.21" r="1.6" fill="#000" stroke="#000" stroke-width="0.9"/>
<circle cx="145.34" cy="205.54" r="1.6" fill="#000" stroke="#000" stroke-width="0.9"/>
<circle cx="179.04" cy="217.59" r="1.6" fill="#000" stroke="#000" stroke-width="0.9"/>
<circle cx="219.48" cy="308.03" r="1.6" fill="#000" stroke="#000" stroke-width="0.9"/>
<circle cx="249.81" cy="314.48" r="1.6" fill="#000" stroke="#000" stroke-width="0.9"/>
<circle cx="255.71" cy="314.48" r="1.6" fill="#000" stroke="#000" stroke-width="0.9"/>
<circle cx="260.76" cy="314.48" r="1.6" fill="#000" stroke="#000" stroke-width="0.9"/>
<path d="M71.20,230.07L79.62,229.65L99.84,225.08L131.86,206.99L145.34,208.03L179.04,218.84L219.48,302.00L249.81,310.73L255.71,310.73L260.76,310.73" fill="none" stroke="#3a3a3a" stroke-width="1.1"/>
<circle cx="71.20" cy="230.07" r="2.5" fill="#fff" stroke="#222" stroke-width="0.9"/>
<circle cx="79.62" cy="229.65" r="2.5" fill="#fff" stroke="#222" stroke-width="0.9"/>
<circle cx="99.84" cy="225.08" r="2.5" fill="#fff" stroke="#222" stroke-width="0.9"/>
<circle cx="131.86" cy="206.99" r="2.5" fill="#fff" stroke="#222" stroke-width="0.9"/>
<circle cx="145.34" cy="208.03" r="2.5" fill="#fff" stroke="#222" stroke-width="0.9"/>
<circle cx="179.04" cy="218.84" r="2.5" fill="#fff" stroke="#222" stroke-width="0.9"/>
<circle cx="219.48" cy="302.00" r="2.5" fill="#fff" stroke="#222" stroke-width="0.9"/>
<circle cx="249.81" cy="310.73" r="2.5" fill="#fff" stroke="#222" stroke-width="0.9"/>
<circle cx="255.71" cy="310.73" r="2.5" fill="#fff" stroke="#222" stroke-width="0.9"/>
<circle cx="260.76" cy="310.73" r="2.5" fill="#fff" stroke="#222" stroke-width="0.9"/>
<rect x="316.1" y="185.4" width="203.10" height="145.40" fill="none" stroke="#6e6e6e" stroke-width="1"/>
<line x1="313.60" y1="330.80" x2="316.1" y2="330.80" stroke="#6e6e6e" stroke-width="1"/>
<text x="309.20" y="333.85" class="yl">0.000</text>
<line x1="313.60" y1="310.03" x2="316.1" y2="310.03" stroke="#6e6e6e" stroke-width="1"/>
<text x="309.20" y="313.08" class="yl">0.001</text>
<line x1="313.60" y1="289.26" x2="316.1" y2="289.26" stroke="#6e6e6e" stroke-width="1"/>
<text x="309.20" y="292.31" class="yl">0.002</text>
<line x1="313.60" y1="268.49" x2="316.1" y2="268.49" stroke="#6e6e6e" stroke-width="1"/>
<text x="309.20" y="271.54" class="yl">0.003</text>
<line x1="313.60" y1="247.72" x2="316.1" y2="247.72" stroke="#6e6e6e" stroke-width="1"/>
<text x="309.20" y="250.77" class="yl">0.004</text>
<line x1="313.60" y1="226.95" x2="316.1" y2="226.95" stroke="#6e6e6e" stroke-width="1"/>
<text x="309.20" y="230.00" class="yl">0.005</text>
<line x1="313.60" y1="206.18" x2="316.1" y2="206.18" stroke="#6e6e6e" stroke-width="1"/>
<text x="309.20" y="209.23" class="yl">0.006</text>
<line x1="313.60" y1="185.41" x2="316.1" y2="185.41" stroke="#6e6e6e" stroke-width="1"/>
<text x="309.20" y="188.46" class="yl">0.007</text>
<line x1="323.30" y1="330.8" x2="323.30" y2="333.30" stroke="#6e6e6e" stroke-width="1"/>
<text x="323.30" y="345.50" class="xl">400</text>
<line x1="357.00" y1="330.8" x2="357.00" y2="333.30" stroke="#6e6e6e" stroke-width="1"/>
<text x="357.00" y="345.50" class="xl">450</text>
<line x1="390.70" y1="330.8" x2="390.70" y2="333.30" stroke="#6e6e6e" stroke-width="1"/>
<text x="390.70" y="345.50" class="xl">500</text>
<line x1="424.40" y1="330.8" x2="424.40" y2="333.30" stroke="#6e6e6e" stroke-width="1"/>
<text x="424.40" y="345.50" class="xl">550</text>
<line x1="458.10" y1="330.8" x2="458.10" y2="333.30" stroke="#6e6e6e" stroke-width="1"/>
<text x="458.10" y="345.50" class="xl">600</text>
<line x1="491.80" y1="330.8" x2="491.80" y2="333.30" stroke="#6e6e6e" stroke-width="1"/>
<text x="491.80" y="345.50" class="xl">650</text>
<text x="514" y="202" class="tt">Cast 3 (90°)</text>
<path d="M323.30,249.80L331.73,247.72L351.94,238.37L383.96,213.45L397.44,214.28L431.14,224.46L471.58,305.88L501.91,315.01L507.81,315.01L512.86,315.01" fill="none" stroke="#9ad880" stroke-width="1.1"/>
<path d="M321.90,248.40L324.70,251.20M321.90,251.20L324.70,248.40" stroke="#507a50" stroke-width="0.9" fill="none"/>
<path d="M330.33,246.32L333.12,249.12M330.33,249.12L333.12,246.32" stroke="#507a50" stroke-width="0.9" fill="none"/>
<path d="M350.55,236.97L353.34,239.77M350.55,239.77L353.34,236.97" stroke="#507a50" stroke-width="0.9" fill="none"/>
<path d="M382.56,212.05L385.36,214.85M382.56,214.85L385.36,212.05" stroke="#507a50" stroke-width="0.9" fill="none"/>
<path d="M396.04,212.88L398.84,215.68M396.04,215.68L398.84,212.88" stroke="#507a50" stroke-width="0.9" fill="none"/>
<path d="M429.74,223.06L432.54,225.86M429.74,225.86L432.54,223.06" stroke="#507a50" stroke-width="0.9" fill="none"/>
<path d="M470.18,304.48L472.98,307.28M470.18,307.28L472.98,304.48" stroke="#507a50" stroke-width="0.9" fill="none"/>
<path d="M500.51,313.61L503.31,316.41M500.51,316.41L503.31,313.61" stroke="#507a50" stroke-width="0.9" fill="none"/>
<path d="M506.41,313.61L509.21,316.41M506.41,316.41L509.21,313.61" stroke="#507a50" stroke-width="0.9" fill="none"/>
<path d="M511.46,313.61L514.26,316.41M511.46,316.41L514.26,313.61" stroke="#507a50" stroke-width="0.9" fill="none"/>
<path d="M323.30,259.56L331.73,250.84L351.94,241.07L383.96,222.59M431.14,235.05L471.58,308.78L501.91,316.26L507.81,316.26L512.86,316.26" fill="none" stroke="#5a5a8a" stroke-width="0.8" stroke-dasharray="4.7,1.6,1.4,1.6"/>
<circle cx="323.30" cy="259.56" r="1.4" fill="#111" stroke="#111" stroke-width="0.9"/>
<circle cx="331.73" cy="250.84" r="1.4" fill="#111" stroke="#111" stroke-width="0.9"/>
<circle cx="351.94" cy="241.07" r="1.4" fill="#111" stroke="#111" stroke-width="0.9"/>
<circle cx="383.96" cy="222.59" r="1.4" fill="#111" stroke="#111" stroke-width="0.9"/>
<circle cx="431.14" cy="235.05" r="1.4" fill="#111" stroke="#111" stroke-width="0.9"/>
<circle cx="471.58" cy="308.78" r="1.4" fill="#111" stroke="#111" stroke-width="0.9"/>
<circle cx="501.91" cy="316.26" r="1.4" fill="#111" stroke="#111" stroke-width="0.9"/>
<circle cx="507.81" cy="316.26" r="1.4" fill="#111" stroke="#111" stroke-width="0.9"/>
<circle cx="512.86" cy="316.26" r="1.4" fill="#111" stroke="#111" stroke-width="0.9"/>
<path d="M323.30,250.84L331.73,250.84L351.94,241.07L383.96,214.07L397.44,214.28L431.14,224.87L471.58,308.78L501.91,315.43L507.81,315.43L512.86,315.43" fill="none" stroke="#707070" stroke-width="0.8" stroke-dasharray="5.4,2.2"/>
<path d="M323.30,248.94L325.20,250.84L323.30,252.74L321.40,250.84Z" fill="#111"/>
<path d="M331.73,248.94L333.62,250.84L331.73,252.74L329.83,250.84Z" fill="#111"/>
<path d="M351.94,239.17L353.84,241.07L351.94,242.97L350.05,241.07Z" fill="#111"/>
<path d="M383.96,212.17L385.86,214.07L383.96,215.97L382.06,214.07Z" fill="#111"/>
<path d="M397.44,212.38L399.34,214.28L397.44,216.18L395.54,214.28Z" fill="#111"/>
<path d="M431.14,222.97L433.04,224.87L431.14,226.77L429.24,224.87Z" fill="#111"/>
<path d="M471.58,306.88L473.48,308.78L471.58,310.68L469.68,308.78Z" fill="#111"/>
<path d="M501.91,313.53L503.81,315.43L501.91,317.33L500.01,315.43Z" fill="#111"/>
<path d="M507.81,313.53L509.71,315.43L507.81,317.33L505.91,315.43Z" fill="#111"/>
<path d="M512.86,313.53L514.76,315.43L512.86,317.33L510.96,315.43Z" fill="#111"/>
<path d="M323.30,243.57L331.73,242.53L351.94,234.43L383.96,210.75L397.44,211.58L431.14,221.97L471.58,304.21L501.91,314.18L507.81,314.18L512.86,314.18" fill="none" stroke="#b8a0e0" stroke-width="1.6"/>
<rect x="322.60" y="242.87" width="1.4" height="1.4" fill="#502070" stroke="#502070" stroke-width="0.8"/>
<rect x="331.03" y="241.83" width="1.4" height="1.4" fill="#502070" stroke="#502070" stroke-width="0.8"/>
<rect x="351.25" y="233.73" width="1.4" height="1.4" fill="#502070" stroke="#502070" stroke-width="0.8"/>
<rect x="383.26" y="210.05" width="1.4" height="1.4" fill="#502070" stroke="#502070" stroke-width="0.8"/>
<rect x="396.74" y="210.88" width="1.4" height="1.4" fill="#502070" stroke="#502070" stroke-width="0.8"/>
<rect x="430.44" y="221.27" width="1.4" height="1.4" fill="#502070" stroke="#502070" stroke-width="0.8"/>
<rect x="470.88" y="303.51" width="1.4" height="1.4" fill="#502070" stroke="#502070" stroke-width="0.8"/>
<rect x="501.21" y="313.48" width="1.4" height="1.4" fill="#502070" stroke="#502070" stroke-width="0.8"/>
<rect x="507.11" y="313.48" width="1.4" height="1.4" fill="#502070" stroke="#502070" stroke-width="0.8"/>
<rect x="512.16" y="313.48" width="1.4" height="1.4" fill="#502070" stroke="#502070" stroke-width="0.8"/>
<path d="M323.30,245.64L331.73,243.98L351.94,235.67L383.96,211.58L397.44,212.41L431.14,222.80L471.58,304.42L501.91,314.39L507.81,314.39L512.86,314.39" fill="none" stroke="#4848c0" stroke-width="1.1"/>
<path d="M323.30,243.64L325.30,245.64L323.30,247.64L321.30,245.64Z" fill="#0a0a9a"/>
<path d="M331.73,241.98L333.73,243.98L331.73,245.98L329.73,243.98Z" fill="#0a0a9a"/>
<path d="M351.94,233.67L353.94,235.67L351.94,237.67L349.94,235.67Z" fill="#0a0a9a"/>
<path d="M383.96,209.58L385.96,211.58L383.96,213.58L381.96,211.58Z" fill="#0a0a9a"/>
<path d="M397.44,210.41L399.44,212.41L397.44,214.41L395.44,212.41Z" fill="#0a0a9a"/>
<path d="M431.14,220.80L433.14,222.80L431.14,224.80L429.14,222.80Z" fill="#0a0a9a"/>
<path d="M471.58,302.42L473.58,304.42L471.58,306.42L469.58,304.42Z" fill="#0a0a9a"/>
<path d="M501.91,312.39L503.91,314.39L501.91,316.39L499.91,314.39Z" fill="#0a0a9a"/>
<path d="M507.81,312.39L509.81,314.39L507.81,316.39L505.81,314.39Z" fill="#0a0a9a"/>
<path d="M512.86,312.39L514.86,314.39L512.86,316.39L510.86,314.39Z" fill="#0a0a9a"/>
<path d="M323.30,248.76L331.73,246.06L351.94,237.75L383.96,212.00L397.44,213.66L431.14,223.21L471.58,304.63L501.91,314.60L507.81,314.60L512.86,314.60" fill="none" stroke="#c8be8a" stroke-width="1.3"/>
<path d="M323.30,250.76L325.30,247.16L321.30,247.16Z" fill="#6f6030"/>
<path d="M331.73,248.06L333.73,244.46L329.73,244.46Z" fill="#6f6030"/>
<path d="M351.94,239.75L353.94,236.15L349.94,236.15Z" fill="#6f6030"/>
<path d="M383.96,214.00L385.96,210.40L381.96,210.40Z" fill="#6f6030"/>
<path d="M397.44,215.66L399.44,212.06L395.44,212.06Z" fill="#6f6030"/>
<path d="M431.14,225.21L433.14,221.61L429.14,221.61Z" fill="#6f6030"/>
<path d="M471.58,306.63L473.58,303.03L469.58,303.03Z" fill="#6f6030"/>
<path d="M501.91,316.60L503.91,313.00L499.91,313.00Z" fill="#6f6030"/>
<path d="M507.81,316.60L509.81,313.00L505.81,313.00Z" fill="#6f6030"/>
<path d="M512.86,316.60L514.86,313.00L510.86,313.00Z" fill="#6f6030"/>
<path d="M323.30,250.21L331.73,247.10L351.94,238.79L383.96,212.41L397.44,214.07L431.14,223.83L471.58,304.84L501.91,314.60L507.81,314.60L512.86,314.60" fill="none" stroke="#f0f090" stroke-width="1.4"/>
<rect x="321.60" y="248.51" width="3.4" height="3.4" fill="#d4d828" stroke="#5a5a10" stroke-width="0.8"/>
<rect x="330.03" y="245.40" width="3.4" height="3.4" fill="#d4d828" stroke="#5a5a10" stroke-width="0.8"/>
<rect x="350.25" y="237.09" width="3.4" height="3.4" fill="#d4d828" stroke="#5a5a10" stroke-width="0.8"/>
<rect x="382.26" y="210.71" width="3.4" height="3.4" fill="#d4d828" stroke="#5a5a10" stroke-width="0.8"/>
<rect x="395.74" y="212.37" width="3.4" height="3.4" fill="#d4d828" stroke="#5a5a10" stroke-width="0.8"/>
<rect x="429.44" y="222.13" width="3.4" height="3.4" fill="#d4d828" stroke="#5a5a10" stroke-width="0.8"/>
<rect x="469.88" y="303.14" width="3.4" height="3.4" fill="#d4d828" stroke="#5a5a10" stroke-width="0.8"/>
<rect x="500.21" y="312.90" width="3.4" height="3.4" fill="#d4d828" stroke="#5a5a10" stroke-width="0.8"/>
<rect x="506.11" y="312.90" width="3.4" height="3.4" fill="#d4d828" stroke="#5a5a10" stroke-width="0.8"/>
<rect x="511.16" y="312.90" width="3.4" height="3.4" fill="#d4d828" stroke="#5a5a10" stroke-width="0.8"/>
<path d="M323.30,239.41L331.73,239.83L351.94,231.10L383.96,207.84L397.44,209.30L431.14,219.47L471.58,304.21L501.91,314.18L507.81,314.18L512.86,314.18" fill="none" stroke="#8898b8" stroke-width="1.1"/>
<circle cx="323.30" cy="239.41" r="1.6" fill="#1c2a48" stroke="#1c2a48" stroke-width="0.9"/>
<circle cx="331.73" cy="239.83" r="1.6" fill="#1c2a48" stroke="#1c2a48" stroke-width="0.9"/>
<circle cx="351.94" cy="231.10" r="1.6" fill="#1c2a48" stroke="#1c2a48" stroke-width="0.9"/>
<circle cx="383.96" cy="207.84" r="1.6" fill="#1c2a48" stroke="#1c2a48" stroke-width="0.9"/>
<circle cx="397.44" cy="209.30" r="1.6" fill="#1c2a48" stroke="#1c2a48" stroke-width="0.9"/>
<circle cx="431.14" cy="219.47" r="1.6" fill="#1c2a48" stroke="#1c2a48" stroke-width="0.9"/>
<circle cx="471.58" cy="304.21" r="1.6" fill="#1c2a48" stroke="#1c2a48" stroke-width="0.9"/>
<circle cx="501.91" cy="314.18" r="1.6" fill="#1c2a48" stroke="#1c2a48" stroke-width="0.9"/>
<circle cx="507.81" cy="314.18" r="1.6" fill="#1c2a48" stroke="#1c2a48" stroke-width="0.9"/>
<circle cx="512.86" cy="314.18" r="1.6" fill="#1c2a48" stroke="#1c2a48" stroke-width="0.9"/>
<path d="M323.30,241.49L331.73,241.07L351.94,232.77L383.96,209.30L397.44,210.33L431.14,220.72L471.58,304.21L501.91,314.18L507.81,314.18L512.86,314.18" fill="none" stroke="#c8a0a0" stroke-width="1.3"/>
<path d="M323.30,239.49L325.30,243.09L321.30,243.09Z" fill="#5a1e1e"/>
<path d="M331.73,239.07L333.73,242.67L329.73,242.67Z" fill="#5a1e1e"/>
<path d="M351.94,230.77L353.94,234.37L349.94,234.37Z" fill="#5a1e1e"/>
<path d="M383.96,207.30L385.96,210.90L381.96,210.90Z" fill="#5a1e1e"/>
<path d="M397.44,208.33L399.44,211.93L395.44,211.93Z" fill="#5a1e1e"/>
<path d="M431.14,218.72L433.14,222.32L429.14,222.32Z" fill="#5a1e1e"/>
<path d="M471.58,302.21L473.58,305.81L469.58,305.81Z" fill="#5a1e1e"/>
<path d="M501.91,312.18L503.91,315.78L499.91,315.78Z" fill="#5a1e1e"/>
<path d="M507.81,312.18L509.81,315.78L505.81,315.78Z" fill="#5a1e1e"/>
<path d="M512.86,312.18L514.86,315.78L510.86,315.78Z" fill="#5a1e1e"/>
<path d="M323.30,237.34L331.73,238.79L351.94,229.65L383.96,206.60L397.44,208.46L431.14,218.43L471.58,303.80L501.91,314.18L507.81,314.18L512.86,314.18" fill="none" stroke="#222222" stroke-width="1.0"/>
<circle cx="323.30" cy="237.34" r="1.6" fill="#000" stroke="#000" stroke-width="0.9"/>
<circle cx="331.73" cy="238.79" r="1.6" fill="#000" stroke="#000" stroke-width="0.9"/>
<circle cx="351.94" cy="229.65" r="1.6" fill="#000" stroke="#000" stroke-width="0.9"/>
<circle cx="383.96" cy="206.60" r="1.6" fill="#000" stroke="#000" stroke-width="0.9"/>
<circle cx="397.44" cy="208.46" r="1.6" fill="#000" stroke="#000" stroke-width="0.9"/>
<circle cx="431.14" cy="218.43" r="1.6" fill="#000" stroke="#000" stroke-width="0.9"/>
<circle cx="471.58" cy="303.80" r="1.6" fill="#000" stroke="#000" stroke-width="0.9"/>
<circle cx="501.91" cy="314.18" r="1.6" fill="#000" stroke="#000" stroke-width="0.9"/>
<circle cx="507.81" cy="314.18" r="1.6" fill="#000" stroke="#000" stroke-width="0.9"/>
<circle cx="512.86" cy="314.18" r="1.6" fill="#000" stroke="#000" stroke-width="0.9"/>
<path d="M323.30,244.40L331.73,242.53L351.94,234.43L383.96,211.16L397.44,211.79L431.14,222.38L471.58,304.01L501.91,314.18L507.81,314.18L512.86,314.18" fill="none" stroke="#3a3a3a" stroke-width="1.1"/>
<circle cx="323.30" cy="244.40" r="2.5" fill="#fff" stroke="#222" stroke-width="0.9"/>
<circle cx="331.73" cy="242.53" r="2.5" fill="#fff" stroke="#222" stroke-width="0.9"/>
<circle cx="351.94" cy="234.43" r="2.5" fill="#fff" stroke="#222" stroke-width="0.9"/>
<circle cx="383.96" cy="211.16" r="2.5" fill="#fff" stroke="#222" stroke-width="0.9"/>
<circle cx="397.44" cy="211.79" r="2.5" fill="#fff" stroke="#222" stroke-width="0.9"/>
<circle cx="431.14" cy="222.38" r="2.5" fill="#fff" stroke="#222" stroke-width="0.9"/>
<circle cx="471.58" cy="304.01" r="2.5" fill="#fff" stroke="#222" stroke-width="0.9"/>
<circle cx="501.91" cy="314.18" r="2.5" fill="#fff" stroke="#222" stroke-width="0.9"/>
<circle cx="507.81" cy="314.18" r="2.5" fill="#fff" stroke="#222" stroke-width="0.9"/>
<circle cx="512.86" cy="314.18" r="2.5" fill="#fff" stroke="#222" stroke-width="0.9"/>
<rect x="65.6" y="362.4" width="202.50" height="145.80" fill="none" stroke="#6e6e6e" stroke-width="1"/>
<line x1="63.10" y1="508.20" x2="65.6" y2="508.20" stroke="#6e6e6e" stroke-width="1"/>
<text x="59.30" y="511.25" class="yl">0.000</text>
<line x1="63.10" y1="487.37" x2="65.6" y2="487.37" stroke="#6e6e6e" stroke-width="1"/>
<text x="59.30" y="490.42" class="yl">0.001</text>
<line x1="63.10" y1="466.54" x2="65.6" y2="466.54" stroke="#6e6e6e" stroke-width="1"/>
<text x="59.30" y="469.59" class="yl">0.002</text>
<line x1="63.10" y1="445.71" x2="65.6" y2="445.71" stroke="#6e6e6e" stroke-width="1"/>
<text x="59.30" y="448.76" class="yl">0.003</text>
<line x1="63.10" y1="424.88" x2="65.6" y2="424.88" stroke="#6e6e6e" stroke-width="1"/>
<text x="59.30" y="427.93" class="yl">0.004</text>
<line x1="63.10" y1="404.05" x2="65.6" y2="404.05" stroke="#6e6e6e" stroke-width="1"/>
<text x="59.30" y="407.10" class="yl">0.005</text>
<line x1="63.10" y1="383.22" x2="65.6" y2="383.22" stroke="#6e6e6e" stroke-width="1"/>
<text x="59.30" y="386.27" class="yl">0.006</text>
<line x1="63.10" y1="362.39" x2="65.6" y2="362.39" stroke="#6e6e6e" stroke-width="1"/>
<text x="59.30" y="365.44" class="yl">0.007</text>
<line x1="72.50" y1="508.2" x2="72.50" y2="510.70" stroke="#6e6e6e" stroke-width="1"/>
<text x="72.50" y="522.20" class="xl">400</text>
<line x1="106.20" y1="508.2" x2="106.20" y2="510.70" stroke="#6e6e6e" stroke-width="1"/>
<text x="106.20" y="522.20" class="xl">450</text>
<line x1="139.90" y1="508.2" x2="139.90" y2="510.70" stroke="#6e6e6e" stroke-width="1"/>
<text x="139.90" y="522.20" class="xl">500</text>
<line x1="173.60" y1="508.2" x2="173.60" y2="510.70" stroke="#6e6e6e" stroke-width="1"/>
<text x="173.60" y="522.20" class="xl">550</text>
<line x1="207.30" y1="508.2" x2="207.30" y2="510.70" stroke="#6e6e6e" stroke-width="1"/>
<text x="207.30" y="522.20" class="xl">600</text>
<line x1="241.00" y1="508.2" x2="241.00" y2="510.70" stroke="#6e6e6e" stroke-width="1"/>
<text x="241.00" y="522.20" class="xl">650</text>
<text x="264.5" y="379.1" class="tt">Cast 6 (135°)</text>
<path d="M72.50,430.30L80.92,426.13L101.15,416.34L133.16,393.43L146.64,394.26L180.34,403.22L220.78,485.29L251.11,498.83L257.01,498.83L262.06,498.83" fill="none" stroke="#9ad880" stroke-width="1.1"/>
<path d="M71.10,428.90L73.90,431.70M71.10,431.70L73.90,428.90" stroke="#507a50" stroke-width="0.9" fill="none"/>
<path d="M79.52,424.73L82.33,427.53M79.52,427.53L82.33,424.73" stroke="#507a50" stroke-width="0.9" fill="none"/>
<path d="M99.75,414.94L102.55,417.74M99.75,417.74L102.55,414.94" stroke="#507a50" stroke-width="0.9" fill="none"/>
<path d="M131.76,392.03L134.56,394.83M131.76,394.83L134.56,392.03" stroke="#507a50" stroke-width="0.9" fill="none"/>
<path d="M145.24,392.86L148.04,395.66M145.24,395.66L148.04,392.86" stroke="#507a50" stroke-width="0.9" fill="none"/>
<path d="M178.94,401.82L181.74,404.62M178.94,404.62L181.74,401.82" stroke="#507a50" stroke-width="0.9" fill="none"/>
<path d="M219.38,483.89L222.18,486.69M219.38,486.69L222.18,483.89" stroke="#507a50" stroke-width="0.9" fill="none"/>
<path d="M249.71,497.43L252.51,500.23M249.71,500.23L252.51,497.43" stroke="#507a50" stroke-width="0.9" fill="none"/>
<path d="M255.61,497.43L258.41,500.23M255.61,500.23L258.41,497.43" stroke="#507a50" stroke-width="0.9" fill="none"/>
<path d="M260.66,497.43L263.46,500.23M260.66,500.23L263.46,497.43" stroke="#507a50" stroke-width="0.9" fill="none"/>
<path d="M72.50,434.88L80.92,426.13L101.15,416.34L133.16,398.63M180.34,413.84L220.78,486.75L251.11,494.04L257.01,494.04L262.06,494.04" fill="none" stroke="#5a5a8a" stroke-width="0.8" stroke-dasharray="4.7,1.6,1.4,1.6"/>
<circle cx="72.50" cy="434.88" r="1.4" fill="#111" stroke="#111" stroke-width="0.9"/>
<circle cx="80.92" cy="426.13" r="1.4" fill="#111" stroke="#111" stroke-width="0.9"/>
<circle cx="101.15" cy="416.34" r="1.4" fill="#111" stroke="#111" stroke-width="0.9"/>
<circle cx="133.16" cy="398.63" r="1.4" fill="#111" stroke="#111" stroke-width="0.9"/>
<circle cx="180.34" cy="413.84" r="1.4" fill="#111" stroke="#111" stroke-width="0.9"/>
<circle cx="220.78" cy="486.75" r="1.4" fill="#111" stroke="#111" stroke-width="0.9"/>
<circle cx="251.11" cy="494.04" r="1.4" fill="#111" stroke="#111" stroke-width="0.9"/>
<circle cx="257.01" cy="494.04" r="1.4" fill="#111" stroke="#111" stroke-width="0.9"/>
<circle cx="262.06" cy="494.04" r="1.4" fill="#111" stroke="#111" stroke-width="0.9"/>
<path d="M72.50,377.39L80.92,380.72L101.15,383.64L133.16,372.81L146.64,376.97L180.34,391.55L220.78,476.95L251.11,486.75L257.01,486.75L262.06,486.75" fill="none" stroke="#b8a0e0" stroke-width="1.6"/>
<rect x="71.80" y="376.69" width="1.4" height="1.4" fill="#502070" stroke="#502070" stroke-width="0.8"/>
<rect x="80.22" y="380.02" width="1.4" height="1.4" fill="#502070" stroke="#502070" stroke-width="0.8"/>
<rect x="100.45" y="382.94" width="1.4" height="1.4" fill="#502070" stroke="#502070" stroke-width="0.8"/>
<rect x="132.46" y="372.11" width="1.4" height="1.4" fill="#502070" stroke="#502070" stroke-width="0.8"/>
<rect x="145.94" y="376.27" width="1.4" height="1.4" fill="#502070" stroke="#502070" stroke-width="0.8"/>
<rect x="179.64" y="390.85" width="1.4" height="1.4" fill="#502070" stroke="#502070" stroke-width="0.8"/>
<rect x="220.08" y="476.25" width="1.4" height="1.4" fill="#502070" stroke="#502070" stroke-width="0.8"/>
<rect x="250.41" y="486.05" width="1.4" height="1.4" fill="#502070" stroke="#502070" stroke-width="0.8"/>
<rect x="256.31" y="486.05" width="1.4" height="1.4" fill="#502070" stroke="#502070" stroke-width="0.8"/>
<rect x="261.36" y="486.05" width="1.4" height="1.4" fill="#502070" stroke="#502070" stroke-width="0.8"/>
<path d="M72.50,378.64L80.92,381.97L101.15,384.47L133.16,374.47L146.64,378.64L180.34,393.22L220.78,477.79L251.11,487.37L257.01,487.37L262.06,487.37" fill="none" stroke="#4848c0" stroke-width="1.1"/>
<path d="M72.50,376.64L74.50,378.64L72.50,380.64L70.50,378.64Z" fill="#0a0a9a"/>
<path d="M80.92,379.97L82.92,381.97L80.92,383.97L78.92,381.97Z" fill="#0a0a9a"/>
<path d="M101.15,382.47L103.15,384.47L101.15,386.47L99.15,384.47Z" fill="#0a0a9a"/>
<path d="M133.16,372.47L135.16,374.47L133.16,376.47L131.16,374.47Z" fill="#0a0a9a"/>
<path d="M146.64,376.64L148.64,378.64L146.64,380.64L144.64,378.64Z" fill="#0a0a9a"/>
<path d="M180.34,391.22L182.34,393.22L180.34,395.22L178.34,393.22Z" fill="#0a0a9a"/>
<path d="M220.78,475.79L222.78,477.79L220.78,479.79L218.78,477.79Z" fill="#0a0a9a"/>
<path d="M251.11,485.37L253.11,487.37L251.11,489.37L249.11,487.37Z" fill="#0a0a9a"/>
<path d="M257.01,485.37L259.01,487.37L257.01,489.37L255.01,487.37Z" fill="#0a0a9a"/>
<path d="M262.06,485.37L264.06,487.37L262.06,489.37L260.06,487.37Z" fill="#0a0a9a"/>
<path d="M72.50,372.39L80.92,375.51L101.15,380.72L133.16,370.31L146.64,375.93L180.34,391.14L220.78,476.95L251.11,486.33L257.01,486.33L262.06,486.33" fill="none" stroke="#c8be8a" stroke-width="1.3"/>
<path d="M72.50,374.39L74.50,370.79L70.50,370.79Z" fill="#6f6030"/>
<path d="M80.92,377.51L82.92,373.91L78.92,373.91Z" fill="#6f6030"/>
<path d="M101.15,382.72L103.15,379.12L99.15,379.12Z" fill="#6f6030"/>
<path d="M133.16,372.31L135.16,368.71L131.16,368.71Z" fill="#6f6030"/>
<path d="M146.64,377.93L148.64,374.33L144.64,374.33Z" fill="#6f6030"/>
<path d="M180.34,393.14L182.34,389.54L178.34,389.54Z" fill="#6f6030"/>
<path d="M220.78,478.95L222.78,475.35L218.78,475.35Z" fill="#6f6030"/>
<path d="M251.11,488.33L253.11,484.73L249.11,484.73Z" fill="#6f6030"/>
<path d="M257.01,488.33L259.01,484.73L255.01,484.73Z" fill="#6f6030"/>
<path d="M262.06,488.33L264.06,484.73L260.06,484.73Z" fill="#6f6030"/>
<path d="M72.50,389.89L80.92,391.55L101.15,390.93L133.16,377.80L146.64,381.14L180.34,393.63L220.78,478.00L251.11,487.37L257.01,487.37L262.06,487.37" fill="none" stroke="#f0f090" stroke-width="1.4"/>
<rect x="70.80" y="388.19" width="3.4" height="3.4" fill="#d4d828" stroke="#5a5a10" stroke-width="0.8"/>
<rect x="79.22" y="389.85" width="3.4" height="3.4" fill="#d4d828" stroke="#5a5a10" stroke-width="0.8"/>
<rect x="99.45" y="389.23" width="3.4" height="3.4" fill="#d4d828" stroke="#5a5a10" stroke-width="0.8"/>
<rect x="131.46" y="376.10" width="3.4" height="3.4" fill="#d4d828" stroke="#5a5a10" stroke-width="0.8"/>
<rect x="144.94" y="379.44" width="3.4" height="3.4" fill="#d4d828" stroke="#5a5a10" stroke-width="0.8"/>
<rect x="178.64" y="391.94" width="3.4" height="3.4" fill="#d4d828" stroke="#5a5a10" stroke-width="0.8"/>
<rect x="219.08" y="476.30" width="3.4" height="3.4" fill="#d4d828" stroke="#5a5a10" stroke-width="0.8"/>
<rect x="249.41" y="485.67" width="3.4" height="3.4" fill="#d4d828" stroke="#5a5a10" stroke-width="0.8"/>
<rect x="255.31" y="485.67" width="3.4" height="3.4" fill="#d4d828" stroke="#5a5a10" stroke-width="0.8"/>
<rect x="260.36" y="485.67" width="3.4" height="3.4" fill="#d4d828" stroke="#5a5a10" stroke-width="0.8"/>
<path d="M72.50,376.55L80.92,379.47L101.15,383.22L133.16,375.93L146.64,379.89L180.34,393.63L220.78,478.00L251.11,487.37L257.01,487.37L262.06,487.37" fill="none" stroke="#8898b8" stroke-width="1.1"/>
<circle cx="72.50" cy="376.55" r="1.6" fill="#1c2a48" stroke="#1c2a48" stroke-width="0.9"/>
<circle cx="80.92" cy="379.47" r="1.6" fill="#1c2a48" stroke="#1c2a48" stroke-width="0.9"/>
<circle cx="101.15" cy="383.22" r="1.6" fill="#1c2a48" stroke="#1c2a48" stroke-width="0.9"/>
<circle cx="133.16" cy="375.93" r="1.6" fill="#1c2a48" stroke="#1c2a48" stroke-width="0.9"/>
<circle cx="146.64" cy="379.89" r="1.6" fill="#1c2a48" stroke="#1c2a48" stroke-width="0.9"/>
<circle cx="180.34" cy="393.63" r="1.6" fill="#1c2a48" stroke="#1c2a48" stroke-width="0.9"/>
<circle cx="220.78" cy="478.00" r="1.6" fill="#1c2a48" stroke="#1c2a48" stroke-width="0.9"/>
<circle cx="251.11" cy="487.37" r="1.6" fill="#1c2a48" stroke="#1c2a48" stroke-width="0.9"/>
<circle cx="257.01" cy="487.37" r="1.6" fill="#1c2a48" stroke="#1c2a48" stroke-width="0.9"/>
<circle cx="262.06" cy="487.37" r="1.6" fill="#1c2a48" stroke="#1c2a48" stroke-width="0.9"/>
<path d="M72.50,375.10L80.92,378.01L101.15,382.18L133.16,371.76L146.64,376.97L180.34,391.97L220.78,477.37L251.11,486.75L257.01,486.75L262.06,486.75" fill="none" stroke="#c8a0a0" stroke-width="1.3"/>
<path d="M72.50,373.10L74.50,376.70L70.50,376.70Z" fill="#5a1e1e"/>
<path d="M80.92,376.01L82.92,379.61L78.92,379.61Z" fill="#5a1e1e"/>
<path d="M101.15,380.18L103.15,383.78L99.15,383.78Z" fill="#5a1e1e"/>
<path d="M133.16,369.76L135.16,373.36L131.16,373.36Z" fill="#5a1e1e"/>
<path d="M146.64,374.97L148.64,378.57L144.64,378.57Z" fill="#5a1e1e"/>
<path d="M180.34,389.97L182.34,393.57L178.34,393.57Z" fill="#5a1e1e"/>
<path d="M220.78,475.37L222.78,478.97L218.78,478.97Z" fill="#5a1e1e"/>
<path d="M251.11,484.75L253.11,488.35L249.11,488.35Z" fill="#5a1e1e"/>
<path d="M257.01,484.75L259.01,488.35L255.01,488.35Z" fill="#5a1e1e"/>
<path d="M262.06,484.75L264.06,488.35L260.06,488.35Z" fill="#5a1e1e"/>
<path d="M72.50,375.72L80.92,379.26L101.15,382.18L133.16,377.80L146.64,381.14L180.34,394.26L220.78,478.00L251.11,487.37L257.01,487.37L262.06,487.37" fill="none" stroke="#222222" stroke-width="1.0"/>
<circle cx="72.50" cy="375.72" r="1.6" fill="#000" stroke="#000" stroke-width="0.9"/>
<circle cx="80.92" cy="379.26" r="1.6" fill="#000" stroke="#000" stroke-width="0.9"/>
<circle cx="101.15" cy="382.18" r="1.6" fill="#000" stroke="#000" stroke-width="0.9"/>
<circle cx="133.16" cy="377.80" r="1.6" fill="#000" stroke="#000" stroke-width="0.9"/>
<circle cx="146.64" cy="381.14" r="1.6" fill="#000" stroke="#000" stroke-width="0.9"/>
<circle cx="180.34" cy="394.26" r="1.6" fill="#000" stroke="#000" stroke-width="0.9"/>
<circle cx="220.78" cy="478.00" r="1.6" fill="#000" stroke="#000" stroke-width="0.9"/>
<circle cx="251.11" cy="487.37" r="1.6" fill="#000" stroke="#000" stroke-width="0.9"/>
<circle cx="257.01" cy="487.37" r="1.6" fill="#000" stroke="#000" stroke-width="0.9"/>
<circle cx="262.06" cy="487.37" r="1.6" fill="#000" stroke="#000" stroke-width="0.9"/>
<path d="M72.50,379.05L80.92,382.39L101.15,384.89L133.16,374.26L146.64,377.39L180.34,391.76L220.78,476.95L251.11,486.75L257.01,486.75L262.06,486.75" fill="none" stroke="#3a3a3a" stroke-width="1.1"/>
<circle cx="72.50" cy="379.05" r="2.5" fill="#fff" stroke="#222" stroke-width="0.9"/>
<circle cx="80.92" cy="382.39" r="2.5" fill="#fff" stroke="#222" stroke-width="0.9"/>
<circle cx="101.15" cy="384.89" r="2.5" fill="#fff" stroke="#222" stroke-width="0.9"/>
<circle cx="133.16" cy="374.26" r="2.5" fill="#fff" stroke="#222" stroke-width="0.9"/>
<circle cx="146.64" cy="377.39" r="2.5" fill="#fff" stroke="#222" stroke-width="0.9"/>
<circle cx="180.34" cy="391.76" r="2.5" fill="#fff" stroke="#222" stroke-width="0.9"/>
<circle cx="220.78" cy="476.95" r="2.5" fill="#fff" stroke="#222" stroke-width="0.9"/>
<circle cx="251.11" cy="486.75" r="2.5" fill="#fff" stroke="#222" stroke-width="0.9"/>
<circle cx="257.01" cy="486.75" r="2.5" fill="#fff" stroke="#222" stroke-width="0.9"/>
<circle cx="262.06" cy="486.75" r="2.5" fill="#fff" stroke="#222" stroke-width="0.9"/>
<rect x="316.6" y="362.5" width="202.60" height="145.50" fill="none" stroke="#6e6e6e" stroke-width="1"/>
<line x1="314.10" y1="491.30" x2="316.6" y2="491.30" stroke="#6e6e6e" stroke-width="1"/>
<text x="308.70" y="494.35" class="yl">0.000</text>
<line x1="314.10" y1="472.90" x2="316.6" y2="472.90" stroke="#6e6e6e" stroke-width="1"/>
<text x="308.70" y="475.95" class="yl">0.001</text>
<line x1="314.10" y1="454.50" x2="316.6" y2="454.50" stroke="#6e6e6e" stroke-width="1"/>
<text x="308.70" y="457.55" class="yl">0.002</text>
<line x1="314.10" y1="436.10" x2="316.6" y2="436.10" stroke="#6e6e6e" stroke-width="1"/>
<text x="308.70" y="439.15" class="yl">0.003</text>
<line x1="314.10" y1="417.70" x2="316.6" y2="417.70" stroke="#6e6e6e" stroke-width="1"/>
<text x="308.70" y="420.75" class="yl">0.004</text>
<line x1="314.10" y1="399.30" x2="316.6" y2="399.30" stroke="#6e6e6e" stroke-width="1"/>
<text x="308.70" y="402.35" class="yl">0.005</text>
<line x1="314.10" y1="380.90" x2="316.6" y2="380.90" stroke="#6e6e6e" stroke-width="1"/>
<text x="308.70" y="383.95" class="yl">0.006</text>
<line x1="314.10" y1="362.50" x2="316.6" y2="362.50" stroke="#6e6e6e" stroke-width="1"/>
<text x="308.70" y="365.55" class="yl">0.007</text>
<line x1="323.50" y1="508" x2="323.50" y2="510.50" stroke="#6e6e6e" stroke-width="1"/>
<text x="323.50" y="522.50" class="xl">400</text>
<line x1="357.20" y1="508" x2="357.20" y2="510.50" stroke="#6e6e6e" stroke-width="1"/>
<text x="357.20" y="522.50" class="xl">450</text>
<line x1="390.90" y1="508" x2="390.90" y2="510.50" stroke="#6e6e6e" stroke-width="1"/>
<text x="390.90" y="522.50" class="xl">500</text>
<line x1="424.60" y1="508" x2="424.60" y2="510.50" stroke="#6e6e6e" stroke-width="1"/>
<text x="424.60" y="522.50" class="xl">550</text>
<line x1="458.30" y1="508" x2="458.30" y2="510.50" stroke="#6e6e6e" stroke-width="1"/>
<text x="458.30" y="522.50" class="xl">600</text>
<line x1="492.00" y1="508" x2="492.00" y2="510.50" stroke="#6e6e6e" stroke-width="1"/>
<text x="492.00" y="522.50" class="xl">650</text>
<text x="514" y="379.0" class="tt">Cast 7 (90°)</text>
<path d="M323.50,436.47L331.93,432.79L352.14,425.06L384.16,404.27L397.64,405.56L431.34,413.65L471.78,477.50L502.11,485.23L508.01,485.23L513.06,485.23" fill="none" stroke="#9ad880" stroke-width="1.1"/>
<path d="M322.10,435.07L324.90,437.87M322.10,437.87L324.90,435.07" stroke="#507a50" stroke-width="0.9" fill="none"/>
<path d="M330.53,431.39L333.32,434.19M330.53,434.19L333.32,431.39" stroke="#507a50" stroke-width="0.9" fill="none"/>
<path d="M350.75,423.66L353.54,426.46M350.75,426.46L353.54,423.66" stroke="#507a50" stroke-width="0.9" fill="none"/>
<path d="M382.76,402.87L385.56,405.67M382.76,405.67L385.56,402.87" stroke="#507a50" stroke-width="0.9" fill="none"/>
<path d="M396.24,404.16L399.04,406.96M396.24,406.96L399.04,404.16" stroke="#507a50" stroke-width="0.9" fill="none"/>
<path d="M429.94,412.25L432.74,415.05M429.94,415.05L432.74,412.25" stroke="#507a50" stroke-width="0.9" fill="none"/>
<path d="M470.38,476.10L473.18,478.90M470.38,478.90L473.18,476.10" stroke="#507a50" stroke-width="0.9" fill="none"/>
<path d="M500.71,483.83L503.51,486.63M500.71,486.63L503.51,483.83" stroke="#507a50" stroke-width="0.9" fill="none"/>
<path d="M506.61,483.83L509.41,486.63M506.61,486.63L509.41,483.83" stroke="#507a50" stroke-width="0.9" fill="none"/>
<path d="M511.66,483.83L514.46,486.63M511.66,486.63L514.46,483.83" stroke="#507a50" stroke-width="0.9" fill="none"/>
<path d="M323.50,408.50L331.93,407.58L352.14,402.06L384.16,384.58M431.34,395.62L471.78,468.30L502.11,476.21L508.01,476.21L513.06,476.21" fill="none" stroke="#5a5a8a" stroke-width="0.8" stroke-dasharray="4.7,1.6,1.4,1.6"/>
<circle cx="323.50" cy="408.50" r="1.4" fill="#111" stroke="#111" stroke-width="0.9"/>
<circle cx="331.93" cy="407.58" r="1.4" fill="#111" stroke="#111" stroke-width="0.9"/>
<circle cx="352.14" cy="402.06" r="1.4" fill="#111" stroke="#111" stroke-width="0.9"/>
<circle cx="384.16" cy="384.58" r="1.4" fill="#111" stroke="#111" stroke-width="0.9"/>
<circle cx="431.34" cy="395.62" r="1.4" fill="#111" stroke="#111" stroke-width="0.9"/>
<circle cx="471.78" cy="468.30" r="1.4" fill="#111" stroke="#111" stroke-width="0.9"/>
<circle cx="502.11" cy="476.21" r="1.4" fill="#111" stroke="#111" stroke-width="0.9"/>
<circle cx="508.01" cy="476.21" r="1.4" fill="#111" stroke="#111" stroke-width="0.9"/>
<circle cx="513.06" cy="476.21" r="1.4" fill="#111" stroke="#111" stroke-width="0.9"/>
<path d="M323.50,410.34L331.93,408.50L352.14,402.80L384.16,383.84L397.64,388.63L431.34,398.38L471.78,468.30L502.11,476.21L508.01,476.21L513.06,476.21" fill="none" stroke="#707070" stroke-width="0.8" stroke-dasharray="5.4,2.2"/>
<path d="M323.50,408.44L325.40,410.34L323.50,412.24L321.60,410.34Z" fill="#111"/>
<path d="M331.93,406.60L333.82,408.50L331.93,410.40L330.03,408.50Z" fill="#111"/>
<path d="M352.14,400.90L354.04,402.80L352.14,404.70L350.25,402.80Z" fill="#111"/>
<path d="M384.16,381.94L386.06,383.84L384.16,385.74L382.26,383.84Z" fill="#111"/>
<path d="M397.64,386.73L399.54,388.63L397.64,390.53L395.74,388.63Z" fill="#111"/>
<path d="M431.34,396.48L433.24,398.38L431.34,400.28L429.44,398.38Z" fill="#111"/>
<path d="M471.78,466.40L473.68,468.30L471.78,470.20L469.88,468.30Z" fill="#111"/>
<path d="M502.11,474.31L504.01,476.21L502.11,478.11L500.21,476.21Z" fill="#111"/>
<path d="M508.01,474.31L509.91,476.21L508.01,478.11L506.11,476.21Z" fill="#111"/>
<path d="M513.06,474.31L514.96,476.21L513.06,478.11L511.16,476.21Z" fill="#111"/>
<path d="M323.50,404.82L331.93,404.82L352.14,399.30L384.16,380.90L397.64,382.37L431.34,392.86L471.78,467.38L502.11,475.66L508.01,475.66L513.06,475.66" fill="none" stroke="#b8a0e0" stroke-width="1.6"/>
<rect x="322.80" y="404.12" width="1.4" height="1.4" fill="#502070" stroke="#502070" stroke-width="0.8"/>
<rect x="331.23" y="404.12" width="1.4" height="1.4" fill="#502070" stroke="#502070" stroke-width="0.8"/>
<rect x="351.44" y="398.60" width="1.4" height="1.4" fill="#502070" stroke="#502070" stroke-width="0.8"/>
<rect x="383.46" y="380.20" width="1.4" height="1.4" fill="#502070" stroke="#502070" stroke-width="0.8"/>
<rect x="396.94" y="381.67" width="1.4" height="1.4" fill="#502070" stroke="#502070" stroke-width="0.8"/>
<rect x="430.64" y="392.16" width="1.4" height="1.4" fill="#502070" stroke="#502070" stroke-width="0.8"/>
<rect x="471.08" y="466.68" width="1.4" height="1.4" fill="#502070" stroke="#502070" stroke-width="0.8"/>
<rect x="501.41" y="474.96" width="1.4" height="1.4" fill="#502070" stroke="#502070" stroke-width="0.8"/>
<rect x="507.31" y="474.96" width="1.4" height="1.4" fill="#502070" stroke="#502070" stroke-width="0.8"/>
<rect x="512.36" y="474.96" width="1.4" height="1.4" fill="#502070" stroke="#502070" stroke-width="0.8"/>
<path d="M323.50,406.66L331.93,406.29L352.14,400.22L384.16,381.27L397.64,382.74L431.34,393.41L471.78,467.56L502.11,475.84L508.01,475.84L513.06,475.84" fill="none" stroke="#4848c0" stroke-width="1.1"/>
<path d="M323.50,404.66L325.50,406.66L323.50,408.66L321.50,406.66Z" fill="#0a0a9a"/>
<path d="M331.93,404.29L333.93,406.29L331.93,408.29L329.93,406.29Z" fill="#0a0a9a"/>
<path d="M352.14,398.22L354.14,400.22L352.14,402.22L350.14,400.22Z" fill="#0a0a9a"/>
<path d="M384.16,379.27L386.16,381.27L384.16,383.27L382.16,381.27Z" fill="#0a0a9a"/>
<path d="M397.64,380.74L399.64,382.74L397.64,384.74L395.64,382.74Z" fill="#0a0a9a"/>
<path d="M431.34,391.41L433.34,393.41L431.34,395.41L429.34,393.41Z" fill="#0a0a9a"/>
<path d="M471.78,465.56L473.78,467.56L471.78,469.56L469.78,467.56Z" fill="#0a0a9a"/>
<path d="M502.11,473.84L504.11,475.84L502.11,477.84L500.11,475.84Z" fill="#0a0a9a"/>
<path d="M508.01,473.84L510.01,475.84L508.01,477.84L506.01,475.84Z" fill="#0a0a9a"/>
<path d="M513.06,473.84L515.06,475.84L513.06,477.84L511.06,475.84Z" fill="#0a0a9a"/>
<path d="M323.50,409.42L331.93,408.13L352.14,402.06L384.16,382.74L397.64,384.58L431.34,393.78L471.78,467.75L502.11,475.84L508.01,475.84L513.06,475.84" fill="none" stroke="#c8be8a" stroke-width="1.3"/>
<path d="M323.50,411.42L325.50,407.82L321.50,407.82Z" fill="#6f6030"/>
<path d="M331.93,410.13L333.93,406.53L329.93,406.53Z" fill="#6f6030"/>
<path d="M352.14,404.06L354.14,400.46L350.14,400.46Z" fill="#6f6030"/>
<path d="M384.16,384.74L386.16,381.14L382.16,381.14Z" fill="#6f6030"/>
<path d="M397.64,386.58L399.64,382.98L395.64,382.98Z" fill="#6f6030"/>
<path d="M431.34,395.78L433.34,392.18L429.34,392.18Z" fill="#6f6030"/>
<path d="M471.78,469.75L473.78,466.15L469.78,466.15Z" fill="#6f6030"/>
<path d="M502.11,477.84L504.11,474.24L500.11,474.24Z" fill="#6f6030"/>
<path d="M508.01,477.84L510.01,474.24L506.01,474.24Z" fill="#6f6030"/>
<path d="M513.06,477.84L515.06,474.24L511.06,474.24Z" fill="#6f6030"/>
<path d="M323.50,410.34L331.93,408.50L352.14,402.80L384.16,381.64L397.64,382.92L431.34,390.10L471.78,467.56L502.11,475.84L508.01,475.84L513.06,475.84" fill="none" stroke="#f0f090" stroke-width="1.4"/>
<rect x="321.80" y="408.64" width="3.4" height="3.4" fill="#d4d828" stroke="#5a5a10" stroke-width="0.8"/>
<rect x="330.23" y="406.80" width="3.4" height="3.4" fill="#d4d828" stroke="#5a5a10" stroke-width="0.8"/>
<rect x="350.44" y="401.10" width="3.4" height="3.4" fill="#d4d828" stroke="#5a5a10" stroke-width="0.8"/>
<rect x="382.46" y="379.94" width="3.4" height="3.4" fill="#d4d828" stroke="#5a5a10" stroke-width="0.8"/>
<rect x="395.94" y="381.22" width="3.4" height="3.4" fill="#d4d828" stroke="#5a5a10" stroke-width="0.8"/>
<rect x="429.64" y="388.40" width="3.4" height="3.4" fill="#d4d828" stroke="#5a5a10" stroke-width="0.8"/>
<rect x="470.08" y="465.86" width="3.4" height="3.4" fill="#d4d828" stroke="#5a5a10" stroke-width="0.8"/>
<rect x="500.41" y="474.14" width="3.4" height="3.4" fill="#d4d828" stroke="#5a5a10" stroke-width="0.8"/>
<rect x="506.31" y="474.14" width="3.4" height="3.4" fill="#d4d828" stroke="#5a5a10" stroke-width="0.8"/>
<rect x="511.36" y="474.14" width="3.4" height="3.4" fill="#d4d828" stroke="#5a5a10" stroke-width="0.8"/>
<path d="M323.50,403.90L331.93,404.45L352.14,398.38L384.16,380.53L397.64,382.00L431.34,395.62L471.78,467.38L502.11,475.66L508.01,475.66L513.06,475.66" fill="none" stroke="#8898b8" stroke-width="1.1"/>
<circle cx="323.50" cy="403.90" r="1.6" fill="#1c2a48" stroke="#1c2a48" stroke-width="0.9"/>
<circle cx="331.93" cy="404.45" r="1.6" fill="#1c2a48" stroke="#1c2a48" stroke-width="0.9"/>
<circle cx="352.14" cy="398.38" r="1.6" fill="#1c2a48" stroke="#1c2a48" stroke-width="0.9"/>
<circle cx="384.16" cy="380.53" r="1.6" fill="#1c2a48" stroke="#1c2a48" stroke-width="0.9"/>
<circle cx="397.64" cy="382.00" r="1.6" fill="#1c2a48" stroke="#1c2a48" stroke-width="0.9"/>
<circle cx="431.34" cy="395.62" r="1.6" fill="#1c2a48" stroke="#1c2a48" stroke-width="0.9"/>
<circle cx="471.78" cy="467.38" r="1.6" fill="#1c2a48" stroke="#1c2a48" stroke-width="0.9"/>
<circle cx="502.11" cy="475.66" r="1.6" fill="#1c2a48" stroke="#1c2a48" stroke-width="0.9"/>
<circle cx="508.01" cy="475.66" r="1.6" fill="#1c2a48" stroke="#1c2a48" stroke-width="0.9"/>
<circle cx="513.06" cy="475.66" r="1.6" fill="#1c2a48" stroke="#1c2a48" stroke-width="0.9"/>
<path d="M323.50,402.98L331.93,404.08L352.14,397.83L384.16,379.98L397.64,381.64L431.34,392.31L471.78,467.38L502.11,475.66L508.01,475.66L513.06,475.66" fill="none" stroke="#c8a0a0" stroke-width="1.3"/>
<path d="M323.50,400.98L325.50,404.58L321.50,404.58Z" fill="#5a1e1e"/>
<path d="M331.93,402.08L333.93,405.68L329.93,405.68Z" fill="#5a1e1e"/>
<path d="M352.14,395.83L354.14,399.43L350.14,399.43Z" fill="#5a1e1e"/>
<path d="M384.16,377.98L386.16,381.58L382.16,381.58Z" fill="#5a1e1e"/>
<path d="M397.64,379.64L399.64,383.24L395.64,383.24Z" fill="#5a1e1e"/>
<path d="M431.34,390.31L433.34,393.91L429.34,393.91Z" fill="#5a1e1e"/>
<path d="M471.78,465.38L473.78,468.98L469.78,468.98Z" fill="#5a1e1e"/>
<path d="M502.11,473.66L504.11,477.26L500.11,477.26Z" fill="#5a1e1e"/>
<path d="M508.01,473.66L510.01,477.26L506.01,477.26Z" fill="#5a1e1e"/>
<path d="M513.06,473.66L515.06,477.26L511.06,477.26Z" fill="#5a1e1e"/>
<path d="M323.50,401.88L331.93,403.72L352.14,397.09L384.16,379.24L397.64,381.08L431.34,398.38L471.78,467.38L502.11,475.66L508.01,475.66L513.06,475.66" fill="none" stroke="#222222" stroke-width="1.0"/>
<circle cx="323.50" cy="401.88" r="1.6" fill="#000" stroke="#000" stroke-width="0.9"/>
<circle cx="331.93" cy="403.72" r="1.6" fill="#000" stroke="#000" stroke-width="0.9"/>
<circle cx="352.14" cy="397.09" r="1.6" fill="#000" stroke="#000" stroke-width="0.9"/>
<circle cx="384.16" cy="379.24" r="1.6" fill="#000" stroke="#000" stroke-width="0.9"/>
<circle cx="397.64" cy="381.08" r="1.6" fill="#000" stroke="#000" stroke-width="0.9"/>
<circle cx="431.34" cy="398.38" r="1.6" fill="#000" stroke="#000" stroke-width="0.9"/>
<circle cx="471.78" cy="467.38" r="1.6" fill="#000" stroke="#000" stroke-width="0.9"/>
<circle cx="502.11" cy="475.66" r="1.6" fill="#000" stroke="#000" stroke-width="0.9"/>
<circle cx="508.01" cy="475.66" r="1.6" fill="#000" stroke="#000" stroke-width="0.9"/>
<circle cx="513.06" cy="475.66" r="1.6" fill="#000" stroke="#000" stroke-width="0.9"/>
<path d="M323.50,406.29L331.93,405.56L352.14,399.48L384.16,381.64L397.64,382.92L431.34,393.60L471.78,467.56L502.11,475.84L508.01,475.84L513.06,475.84" fill="none" stroke="#3a3a3a" stroke-width="1.1"/>
<circle cx="323.50" cy="406.29" r="2.5" fill="#fff" stroke="#222" stroke-width="0.9"/>
<circle cx="331.93" cy="405.56" r="2.5" fill="#fff" stroke="#222" stroke-width="0.9"/>
<circle cx="352.14" cy="399.48" r="2.5" fill="#fff" stroke="#222" stroke-width="0.9"/>
<circle cx="384.16" cy="381.64" r="2.5" fill="#fff" stroke="#222" stroke-width="0.9"/>
<circle cx="397.64" cy="382.92" r="2.5" fill="#fff" stroke="#222" stroke-width="0.9"/>
<circle cx="431.34" cy="393.60" r="2.5" fill="#fff" stroke="#222" stroke-width="0.9"/>
<circle cx="471.78" cy="467.56" r="2.5" fill="#fff" stroke="#222" stroke-width="0.9"/>
<circle cx="502.11" cy="475.84" r="2.5" fill="#fff" stroke="#222" stroke-width="0.9"/>
<circle cx="508.01" cy="475.84" r="2.5" fill="#fff" stroke="#222" stroke-width="0.9"/>
<circle cx="513.06" cy="475.84" r="2.5" fill="#fff" stroke="#222" stroke-width="0.9"/>
<line x1="360.2" y1="68.30" x2="389.7" y2="68.30" stroke="#222222" stroke-width="1.0"/>
<circle cx="374.80" cy="68.30" r="1.6" fill="#000" stroke="#000" stroke-width="0.9"/>
<text x="396.6" y="70.80" class="lg">RAMSES-A</text>
<line x1="360.2" y1="75.90" x2="389.7" y2="75.90" stroke="#c8a0a0" stroke-width="1.3"/>
<path d="M374.80,73.90L376.80,77.50L372.80,77.50Z" fill="#5a1e1e"/>
<text x="396.6" y="78.40" class="lg">RAMSES-C</text>
<line x1="360.2" y1="83.50" x2="389.7" y2="83.50" stroke="#8898b8" stroke-width="1.1"/>
<circle cx="374.80" cy="83.50" r="1.6" fill="#1c2a48" stroke="#1c2a48" stroke-width="0.9"/>
<text x="396.6" y="86.00" class="lg">RAMSES-B</text>
<line x1="360.2" y1="91.10" x2="389.7" y2="91.10" stroke="#f0f090" stroke-width="1.4"/>
<rect x="373.10" y="89.40" width="3.4" height="3.4" fill="#d4d828" stroke="#5a5a10" stroke-width="0.8"/>
<text x="396.6" y="93.60" class="lg">RAMSES-D</text>
<line x1="360.2" y1="98.70" x2="389.7" y2="98.70" stroke="#c8be8a" stroke-width="1.3"/>
<path d="M374.80,100.70L376.80,97.10L372.80,97.10Z" fill="#6f6030"/>
<text x="396.6" y="101.20" class="lg">RAMSES-E</text>
<line x1="360.2" y1="106.30" x2="389.7" y2="106.30" stroke="#4848c0" stroke-width="1.1"/>
<path d="M374.80,104.30L376.80,106.30L374.80,108.30L372.80,106.30Z" fill="#0a0a9a"/>
<text x="396.6" y="108.80" class="lg">HyperSAS-A</text>
<line x1="360.2" y1="113.90" x2="389.7" y2="113.90" stroke="#b8a0e0" stroke-width="1.6"/>
<rect x="374.10" y="113.20" width="1.4" height="1.4" fill="#502070" stroke="#502070" stroke-width="0.8"/>
<text x="396.6" y="116.40" class="lg">HyperSAS-B</text>
<line x1="360.2" y1="121.50" x2="389.7" y2="121.50" stroke="#707070" stroke-width="0.8" stroke-dasharray="5.4,2.2"/>
<path d="M374.80,119.60L376.70,121.50L374.80,123.40L372.90,121.50Z" fill="#111"/>
<text x="396.6" y="124.00" class="lg">PANTHYR</text>
<line x1="360.2" y1="129.10" x2="389.7" y2="129.10" stroke="#5a5a8a" stroke-width="0.8" stroke-dasharray="4.7,1.6,1.4,1.6"/>
<circle cx="374.80" cy="129.10" r="1.4" fill="#111" stroke="#111" stroke-width="0.9"/>
<text x="396.6" y="131.60" class="lg">In-water-A</text>
<line x1="360.2" y1="136.70" x2="389.7" y2="136.70" stroke="#9ad880" stroke-width="1.1"/>
<path d="M373.40,135.30L376.20,138.10M373.40,138.10L376.20,135.30" stroke="#507a50" stroke-width="0.9" fill="none"/>
<text x="396.6" y="139.20" class="lg">In-water-B</text>
<line x1="360.2" y1="144.30" x2="389.7" y2="144.30" stroke="#3a3a3a" stroke-width="1.1"/>
<circle cx="374.80" cy="144.30" r="2.5" fill="#fff" stroke="#222" stroke-width="0.9"/>
<text x="396.6" y="146.80" class="lg">Weighted-Mean</text>
<text x="115.2" y="541.9" class="at">Wavelength (nm)</text>
<text x="366.2" y="541.9" class="at">Wavelength (nm)</text>
<text transform="translate(19.2,283.2) rotate(-90)" class="at" style="font-size:14px">R<tspan dy="4.6" style="font-size:8.4px">rs</tspan><tspan dy="-4.6" dx="0.8"> [sr</tspan><tspan dy="-5.6" style="font-size:7.5px">-1</tspan><tspan dy="5.6">]</tspan></text>
</svg>
</body></html>
